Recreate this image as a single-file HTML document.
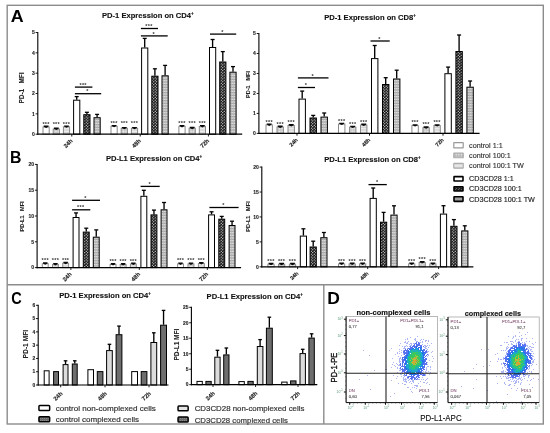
<!DOCTYPE html>
<html><head><meta charset="utf-8"><style>
html,body{margin:0;padding:0;background:#fff;}
body{width:550px;height:433px;overflow:hidden;}
svg{display:block;font-family:"Liberation Sans", sans-serif;will-change:transform;filter:blur(0.3px);}
</style></head><body>
<svg width="550" height="433" viewBox="0 0 550 433">
<defs>
<filter id="soft" x="-5%" y="-5%" width="110%" height="110%"><feGaussianBlur stdDeviation="0.3"/></filter>
<pattern id="px" width="3" height="2.8" patternUnits="userSpaceOnUse">
<rect width="3" height="2.8" fill="#111"/><path d="M0.75 -0.1 L1.55 0.7 L0.75 1.5 L-0.05 0.7 Z M2.25 1.3 L3.05 2.1 L2.25 2.9 L1.45 2.1 Z" fill="#f0f0f0"/>
</pattern>
<pattern id="ph" width="2" height="1.6" patternUnits="userSpaceOnUse">
<rect width="2" height="1.6" fill="#e2e2e2"/><rect y="1.0" width="2" height="0.6" fill="#8a8a8a"/><rect x="1.4" width="0.6" height="1.6" fill="#b8b8b8"/>
</pattern>
<pattern id="pcx" width="2.6" height="2.6" patternUnits="userSpaceOnUse">
<rect width="2.6" height="2.6" fill="#c8c8c8"/><rect x="0.65" y="0.65" width="1.3" height="1.3" fill="#f4f4f4" transform="rotate(45 1.3 1.3)"/>
</pattern>
<pattern id="pch" width="2" height="1.6" patternUnits="userSpaceOnUse">
<rect width="2" height="1.6" fill="#f0f0f0"/><rect y="1.0" width="2" height="0.6" fill="#c8c8c8"/>
</pattern>
<pattern id="plx" width="2.6" height="2.6" patternUnits="userSpaceOnUse">
<rect width="2.6" height="2.6" fill="#b8b8b8"/><rect x="0.65" y="0.65" width="1.3" height="1.3" fill="#eee" transform="rotate(45 1.3 1.3)"/>
</pattern>
<pattern id="plh" width="2" height="1.6" patternUnits="userSpaceOnUse">
<rect width="2" height="1.6" fill="#eee"/><rect y="1.0" width="2" height="0.6" fill="#d0d0d0"/>
</pattern>
<pattern id="pbx" width="3" height="2.8" patternUnits="userSpaceOnUse">
<rect width="3" height="2.8" fill="#111"/><path d="M0.75 0.1 L1.35 0.7 L0.75 1.3 L0.15 0.7 Z M2.25 1.5 L2.85 2.1 L2.25 2.7 L1.65 2.1 Z" fill="#e0e0e0"/>
</pattern>
<pattern id="pdg" width="2" height="2" patternUnits="userSpaceOnUse">
<rect width="2" height="2" fill="#6a6a6a"/><rect width="1" height="1" fill="#8a8a8a"/>
</pattern>
</defs>
<rect x="7.2" y="5.3" width="536.1" height="418.7" fill="none" stroke="#8c8c8c" stroke-width="1.4"/>
<line x1="7.2" y1="284.8" x2="543.3" y2="284.8" stroke="#8c8c8c" stroke-width="1.4"/>
<line x1="323.8" y1="284.8" x2="323.8" y2="424" stroke="#8c8c8c" stroke-width="1.4"/>
<text transform="translate(10.66 21.7) scale(1.044 1)" font-size="17.1" font-weight="bold" fill="#000">A</text>
<text transform="translate(9.99 162.9) scale(0.910 1)" font-size="17.39" font-weight="bold" fill="#000">B</text>
<text transform="translate(11.32 304.2) scale(0.843 1)" font-size="17.25" font-weight="bold" fill="#000">C</text>
<text transform="translate(327.27 303.7) scale(1.023 1)" font-size="17.1" font-weight="bold" fill="#000">D</text>
<rect x="43" y="127" width="6.2" height="7.2" fill="#fff" stroke="#8a8a8a" stroke-width="1"/>
<path d="M43.7 125.6 h4.8 v1.1 l-2.4 1.3 l-2.4 -1.3 z" fill="#0a0a0a"/>
<text x="46.1" y="125.5" font-size="5.5" font-weight="bold" fill="#333" text-anchor="middle" letter-spacing="0.3">***</text>
<rect x="53.2" y="129" width="6.2" height="5.2" fill="url(#pcx)" stroke="#8a8a8a" stroke-width="1"/>
<path d="M53.9 127.6 h4.8 v1.1 l-2.4 1.3 l-2.4 -1.3 z" fill="#0a0a0a"/>
<text x="56.3" y="125.5" font-size="5.5" font-weight="bold" fill="#333" text-anchor="middle" letter-spacing="0.3">***</text>
<rect x="63.4" y="126.8" width="6.2" height="7.4" fill="url(#pch)" stroke="#8a8a8a" stroke-width="1"/>
<path d="M64.1 125.4 h4.8 v1.1 l-2.4 1.3 l-2.4 -1.3 z" fill="#0a0a0a"/>
<text x="66.5" y="125.5" font-size="5.5" font-weight="bold" fill="#333" text-anchor="middle" letter-spacing="0.3">***</text>
<line x1="76.7" y1="99.7" x2="76.7" y2="96.6" stroke="#000" stroke-width="1.35"/>
<line x1="74.7" y1="96.6" x2="78.7" y2="96.6" stroke="#000" stroke-width="1.3"/>
<rect x="73.6" y="100.2" width="6.2" height="34" fill="#fff" stroke="#000" stroke-width="1"/>
<line x1="86.9" y1="114.2" x2="86.9" y2="112.3" stroke="#000" stroke-width="1.35"/>
<line x1="84.9" y1="112.3" x2="88.9" y2="112.3" stroke="#000" stroke-width="1.3"/>
<rect x="83.8" y="114.7" width="6.2" height="19.5" fill="url(#px)" stroke="#000" stroke-width="1"/>
<line x1="97.1" y1="117.2" x2="97.1" y2="114.4" stroke="#000" stroke-width="1.35"/>
<line x1="95.1" y1="114.4" x2="99.1" y2="114.4" stroke="#000" stroke-width="1.3"/>
<rect x="94" y="117.7" width="6.2" height="16.5" fill="url(#ph)" stroke="#000" stroke-width="1"/>
<rect x="111" y="126.3" width="6.2" height="7.9" fill="#fff" stroke="#8a8a8a" stroke-width="1"/>
<path d="M111.7 124.9 h4.8 v1.1 l-2.4 1.3 l-2.4 -1.3 z" fill="#0a0a0a"/>
<text x="114.1" y="125" font-size="5.5" font-weight="bold" fill="#333" text-anchor="middle" letter-spacing="0.3">***</text>
<rect x="121.2" y="128.3" width="6.2" height="5.9" fill="url(#pcx)" stroke="#8a8a8a" stroke-width="1"/>
<path d="M121.9 126.9 h4.8 v1.1 l-2.4 1.3 l-2.4 -1.3 z" fill="#0a0a0a"/>
<text x="124.3" y="125" font-size="5.5" font-weight="bold" fill="#333" text-anchor="middle" letter-spacing="0.3">***</text>
<rect x="131.4" y="128.3" width="6.2" height="5.9" fill="url(#pch)" stroke="#8a8a8a" stroke-width="1"/>
<path d="M132.1 126.9 h4.8 v1.1 l-2.4 1.3 l-2.4 -1.3 z" fill="#0a0a0a"/>
<text x="134.5" y="125" font-size="5.5" font-weight="bold" fill="#333" text-anchor="middle" letter-spacing="0.3">***</text>
<line x1="144.7" y1="47.5" x2="144.7" y2="38.4" stroke="#000" stroke-width="1.35"/>
<line x1="142.7" y1="38.4" x2="146.7" y2="38.4" stroke="#000" stroke-width="1.3"/>
<rect x="141.6" y="48" width="6.2" height="86.2" fill="#fff" stroke="#000" stroke-width="1"/>
<line x1="154.9" y1="75.7" x2="154.9" y2="68.8" stroke="#000" stroke-width="1.35"/>
<line x1="152.9" y1="68.8" x2="156.9" y2="68.8" stroke="#000" stroke-width="1.3"/>
<rect x="151.8" y="76.2" width="6.2" height="58" fill="url(#px)" stroke="#000" stroke-width="1"/>
<line x1="165.1" y1="75.3" x2="165.1" y2="65.4" stroke="#000" stroke-width="1.35"/>
<line x1="163.1" y1="65.4" x2="167.1" y2="65.4" stroke="#000" stroke-width="1.3"/>
<rect x="162" y="75.8" width="6.2" height="58.4" fill="url(#ph)" stroke="#000" stroke-width="1"/>
<rect x="178.9" y="126.4" width="6.2" height="7.8" fill="#fff" stroke="#8a8a8a" stroke-width="1"/>
<path d="M179.6 125 h4.8 v1.1 l-2.4 1.3 l-2.4 -1.3 z" fill="#0a0a0a"/>
<text x="182" y="125.1" font-size="5.5" font-weight="bold" fill="#333" text-anchor="middle" letter-spacing="0.3">***</text>
<rect x="189.1" y="128.2" width="6.2" height="6" fill="url(#pcx)" stroke="#8a8a8a" stroke-width="1"/>
<path d="M189.8 126.8 h4.8 v1.1 l-2.4 1.3 l-2.4 -1.3 z" fill="#0a0a0a"/>
<text x="192.2" y="125.1" font-size="5.5" font-weight="bold" fill="#333" text-anchor="middle" letter-spacing="0.3">***</text>
<rect x="199.3" y="126.4" width="6.2" height="7.8" fill="url(#pch)" stroke="#8a8a8a" stroke-width="1"/>
<path d="M200 125 h4.8 v1.1 l-2.4 1.3 l-2.4 -1.3 z" fill="#0a0a0a"/>
<text x="202.4" y="125.1" font-size="5.5" font-weight="bold" fill="#333" text-anchor="middle" letter-spacing="0.3">***</text>
<line x1="212.6" y1="47" x2="212.6" y2="39.5" stroke="#000" stroke-width="1.35"/>
<line x1="210.6" y1="39.5" x2="214.6" y2="39.5" stroke="#000" stroke-width="1.3"/>
<rect x="209.5" y="47.5" width="6.2" height="86.7" fill="#fff" stroke="#000" stroke-width="1"/>
<line x1="222.8" y1="61.5" x2="222.8" y2="51.6" stroke="#000" stroke-width="1.35"/>
<line x1="220.8" y1="51.6" x2="224.8" y2="51.6" stroke="#000" stroke-width="1.3"/>
<rect x="219.7" y="62" width="6.2" height="72.2" fill="url(#px)" stroke="#000" stroke-width="1"/>
<line x1="233" y1="71.7" x2="233" y2="66.6" stroke="#000" stroke-width="1.35"/>
<line x1="231" y1="66.6" x2="235" y2="66.6" stroke="#000" stroke-width="1.3"/>
<rect x="229.9" y="72.2" width="6.2" height="62" fill="url(#ph)" stroke="#000" stroke-width="1"/>
<line x1="37.8" y1="32" x2="37.8" y2="134.8" stroke="#000" stroke-width="1.1"/>
<line x1="37.3" y1="134.2" x2="242.2" y2="134.2" stroke="#000" stroke-width="1.2"/>
<line x1="35.6" y1="134.2" x2="37.8" y2="134.2" stroke="#000" stroke-width="0.9"/>
<text x="34.8" y="136" font-size="5" font-weight="bold" fill="#222" text-anchor="end" stroke="#222" stroke-width="0.12">0</text>
<line x1="35.6" y1="113.86" x2="37.8" y2="113.86" stroke="#000" stroke-width="0.9"/>
<text x="34.8" y="115.66" font-size="5" font-weight="bold" fill="#222" text-anchor="end" stroke="#222" stroke-width="0.12">1</text>
<line x1="35.6" y1="93.52" x2="37.8" y2="93.52" stroke="#000" stroke-width="0.9"/>
<text x="34.8" y="95.32" font-size="5" font-weight="bold" fill="#222" text-anchor="end" stroke="#222" stroke-width="0.12">2</text>
<line x1="35.6" y1="73.18" x2="37.8" y2="73.18" stroke="#000" stroke-width="0.9"/>
<text x="34.8" y="74.98" font-size="5" font-weight="bold" fill="#222" text-anchor="end" stroke="#222" stroke-width="0.12">3</text>
<line x1="35.6" y1="52.84" x2="37.8" y2="52.84" stroke="#000" stroke-width="0.9"/>
<text x="34.8" y="54.64" font-size="5" font-weight="bold" fill="#222" text-anchor="end" stroke="#222" stroke-width="0.12">4</text>
<line x1="35.6" y1="32.5" x2="37.8" y2="32.5" stroke="#000" stroke-width="0.9"/>
<text x="34.8" y="34.3" font-size="5" font-weight="bold" fill="#222" text-anchor="end" stroke="#222" stroke-width="0.12">5</text>
<line x1="71.8" y1="134.2" x2="71.8" y2="136.5" stroke="#000" stroke-width="0.9"/>
<text x="73" y="141.2" font-size="5.8" font-weight="bold" fill="#222" text-anchor="end" transform="rotate(-45 73 141.2)" stroke="#222" stroke-width="0.15">24h</text>
<line x1="140.2" y1="134.2" x2="140.2" y2="136.5" stroke="#000" stroke-width="0.9"/>
<text x="141.4" y="141.2" font-size="5.8" font-weight="bold" fill="#222" text-anchor="end" transform="rotate(-45 141.4 141.2)" stroke="#222" stroke-width="0.15">48h</text>
<line x1="208.4" y1="134.2" x2="208.4" y2="136.5" stroke="#000" stroke-width="0.9"/>
<text x="209.6" y="141.2" font-size="5.8" font-weight="bold" fill="#222" text-anchor="end" transform="rotate(-45 209.6 141.2)" stroke="#222" stroke-width="0.15">72h</text>
<line x1="74.9" y1="87.1" x2="92.4" y2="87.1" stroke="#000" stroke-width="1.3"/>
<text x="83.15" y="86.7" font-size="5.5" font-weight="bold" fill="#333" text-anchor="middle" letter-spacing="0.3">***</text>
<line x1="74.9" y1="93.7" x2="101.2" y2="93.7" stroke="#000" stroke-width="1.3"/>
<text x="87.55" y="93.3" font-size="5.5" font-weight="bold" fill="#333" text-anchor="middle" letter-spacing="0.3">*</text>
<line x1="140.9" y1="28.5" x2="158" y2="28.5" stroke="#000" stroke-width="1.3"/>
<text x="148.95" y="28.1" font-size="5.5" font-weight="bold" fill="#333" text-anchor="middle" letter-spacing="0.3">***</text>
<line x1="140.9" y1="35.9" x2="167.7" y2="35.9" stroke="#000" stroke-width="1.3"/>
<text x="153.8" y="35.5" font-size="5.5" font-weight="bold" fill="#333" text-anchor="middle" letter-spacing="0.3">*</text>
<line x1="210" y1="34.1" x2="236.2" y2="34.1" stroke="#000" stroke-width="1.3"/>
<text x="222.6" y="33.7" font-size="5.5" font-weight="bold" fill="#333" text-anchor="middle" letter-spacing="0.3">*</text>
<text x="21" y="88" font-size="6.45" font-weight="bold" fill="#222" text-anchor="middle" transform="rotate(-90 21 88)" dominant-baseline="central" xml:space="preserve" stroke="#222" stroke-width="0.08">PD-1   MFI</text>
<text x="102" y="18.3" font-size="7.6" font-weight="bold" fill="#111" text-anchor="start" stroke="#111" stroke-width="0.12">PD-1 Expression on CD4<tspan font-size="4.5" dy="-3">+</tspan></text>
<rect x="266" y="124.9" width="6.4" height="8.5" fill="#fff" stroke="#8a8a8a" stroke-width="1"/>
<path d="M266.7 123.5 h5 v1.1 l-2.5 1.3 l-2.5 -1.3 z" fill="#0a0a0a"/>
<text x="269.2" y="123.6" font-size="5.5" font-weight="bold" fill="#333" text-anchor="middle" letter-spacing="0.3">***</text>
<rect x="277" y="127" width="6.4" height="6.4" fill="url(#pcx)" stroke="#8a8a8a" stroke-width="1"/>
<path d="M277.7 125.6 h5 v1.1 l-2.5 1.3 l-2.5 -1.3 z" fill="#0a0a0a"/>
<text x="280.2" y="125.7" font-size="5.5" font-weight="bold" fill="#333" text-anchor="middle" letter-spacing="0.3">***</text>
<rect x="288" y="125.5" width="6.4" height="7.9" fill="url(#pch)" stroke="#8a8a8a" stroke-width="1"/>
<path d="M288.7 124.1 h5 v1.1 l-2.5 1.3 l-2.5 -1.3 z" fill="#0a0a0a"/>
<text x="291.2" y="124.2" font-size="5.5" font-weight="bold" fill="#333" text-anchor="middle" letter-spacing="0.3">***</text>
<line x1="302.2" y1="98.6" x2="302.2" y2="91.1" stroke="#000" stroke-width="1.35"/>
<line x1="300.2" y1="91.1" x2="304.2" y2="91.1" stroke="#000" stroke-width="1.3"/>
<rect x="299" y="99.1" width="6.4" height="34.3" fill="#fff" stroke="#000" stroke-width="1"/>
<line x1="313.2" y1="117.5" x2="313.2" y2="115.4" stroke="#000" stroke-width="1.35"/>
<line x1="311.2" y1="115.4" x2="315.2" y2="115.4" stroke="#000" stroke-width="1.3"/>
<rect x="310" y="118" width="6.4" height="15.4" fill="url(#px)" stroke="#000" stroke-width="1"/>
<line x1="324.2" y1="116.6" x2="324.2" y2="113" stroke="#000" stroke-width="1.35"/>
<line x1="322.2" y1="113" x2="326.2" y2="113" stroke="#000" stroke-width="1.3"/>
<rect x="321" y="117.1" width="6.4" height="16.3" fill="url(#ph)" stroke="#000" stroke-width="1"/>
<rect x="338.5" y="124.1" width="6.4" height="9.3" fill="#fff" stroke="#8a8a8a" stroke-width="1"/>
<path d="M339.2 122.7 h5 v1.1 l-2.5 1.3 l-2.5 -1.3 z" fill="#0a0a0a"/>
<text x="341.7" y="122.8" font-size="5.5" font-weight="bold" fill="#333" text-anchor="middle" letter-spacing="0.3">***</text>
<rect x="349.5" y="127.1" width="6.4" height="6.3" fill="url(#pcx)" stroke="#8a8a8a" stroke-width="1"/>
<path d="M350.2 125.7 h5 v1.1 l-2.5 1.3 l-2.5 -1.3 z" fill="#0a0a0a"/>
<text x="352.7" y="125.8" font-size="5.5" font-weight="bold" fill="#333" text-anchor="middle" letter-spacing="0.3">***</text>
<rect x="360.5" y="125" width="6.4" height="8.4" fill="url(#pch)" stroke="#8a8a8a" stroke-width="1"/>
<path d="M361.2 123.6 h5 v1.1 l-2.5 1.3 l-2.5 -1.3 z" fill="#0a0a0a"/>
<text x="363.7" y="123.7" font-size="5.5" font-weight="bold" fill="#333" text-anchor="middle" letter-spacing="0.3">***</text>
<line x1="374.7" y1="58.1" x2="374.7" y2="45.5" stroke="#000" stroke-width="1.35"/>
<line x1="372.7" y1="45.5" x2="376.7" y2="45.5" stroke="#000" stroke-width="1.3"/>
<rect x="371.5" y="58.6" width="6.4" height="74.8" fill="#fff" stroke="#000" stroke-width="1"/>
<line x1="385.7" y1="84" x2="385.7" y2="77.7" stroke="#000" stroke-width="1.35"/>
<line x1="383.7" y1="77.7" x2="387.7" y2="77.7" stroke="#000" stroke-width="1.3"/>
<rect x="382.5" y="84.5" width="6.4" height="48.9" fill="url(#px)" stroke="#000" stroke-width="1"/>
<line x1="396.7" y1="78.5" x2="396.7" y2="70.2" stroke="#000" stroke-width="1.35"/>
<line x1="394.7" y1="70.2" x2="398.7" y2="70.2" stroke="#000" stroke-width="1.3"/>
<rect x="393.5" y="79" width="6.4" height="54.4" fill="url(#ph)" stroke="#000" stroke-width="1"/>
<rect x="411.9" y="125.6" width="6.4" height="7.8" fill="#fff" stroke="#8a8a8a" stroke-width="1"/>
<path d="M412.6 124.2 h5 v1.1 l-2.5 1.3 l-2.5 -1.3 z" fill="#0a0a0a"/>
<text x="415.1" y="124.3" font-size="5.5" font-weight="bold" fill="#333" text-anchor="middle" letter-spacing="0.3">***</text>
<rect x="422.9" y="127.7" width="6.4" height="5.7" fill="url(#pcx)" stroke="#8a8a8a" stroke-width="1"/>
<path d="M423.6 126.3 h5 v1.1 l-2.5 1.3 l-2.5 -1.3 z" fill="#0a0a0a"/>
<text x="426.1" y="126.4" font-size="5.5" font-weight="bold" fill="#333" text-anchor="middle" letter-spacing="0.3">***</text>
<rect x="433.9" y="125.6" width="6.4" height="7.8" fill="url(#pch)" stroke="#8a8a8a" stroke-width="1"/>
<path d="M434.6 124.2 h5 v1.1 l-2.5 1.3 l-2.5 -1.3 z" fill="#0a0a0a"/>
<text x="437.1" y="124.3" font-size="5.5" font-weight="bold" fill="#333" text-anchor="middle" letter-spacing="0.3">***</text>
<line x1="448.1" y1="73.2" x2="448.1" y2="67.1" stroke="#000" stroke-width="1.35"/>
<line x1="446.1" y1="67.1" x2="450.1" y2="67.1" stroke="#000" stroke-width="1.3"/>
<rect x="444.9" y="73.7" width="6.4" height="59.7" fill="#fff" stroke="#000" stroke-width="1"/>
<line x1="459.1" y1="51" x2="459.1" y2="35" stroke="#000" stroke-width="1.35"/>
<line x1="457.1" y1="35" x2="461.1" y2="35" stroke="#000" stroke-width="1.3"/>
<rect x="455.9" y="51.5" width="6.4" height="81.9" fill="url(#px)" stroke="#000" stroke-width="1"/>
<line x1="470.1" y1="86.7" x2="470.1" y2="81" stroke="#000" stroke-width="1.35"/>
<line x1="468.1" y1="81" x2="472.1" y2="81" stroke="#000" stroke-width="1.3"/>
<rect x="466.9" y="87.2" width="6.4" height="46.2" fill="url(#ph)" stroke="#000" stroke-width="1"/>
<line x1="258.9" y1="33" x2="258.9" y2="134" stroke="#000" stroke-width="1.1"/>
<line x1="258.4" y1="133.4" x2="479.6" y2="133.4" stroke="#000" stroke-width="1.2"/>
<line x1="256.7" y1="133.4" x2="258.9" y2="133.4" stroke="#000" stroke-width="0.9"/>
<text x="255.9" y="135.2" font-size="5" font-weight="bold" fill="#222" text-anchor="end" stroke="#222" stroke-width="0.12">0</text>
<line x1="256.7" y1="113.42" x2="258.9" y2="113.42" stroke="#000" stroke-width="0.9"/>
<text x="255.9" y="115.22" font-size="5" font-weight="bold" fill="#222" text-anchor="end" stroke="#222" stroke-width="0.12">1</text>
<line x1="256.7" y1="93.44" x2="258.9" y2="93.44" stroke="#000" stroke-width="0.9"/>
<text x="255.9" y="95.24" font-size="5" font-weight="bold" fill="#222" text-anchor="end" stroke="#222" stroke-width="0.12">2</text>
<line x1="256.7" y1="73.46" x2="258.9" y2="73.46" stroke="#000" stroke-width="0.9"/>
<text x="255.9" y="75.26" font-size="5" font-weight="bold" fill="#222" text-anchor="end" stroke="#222" stroke-width="0.12">3</text>
<line x1="256.7" y1="53.48" x2="258.9" y2="53.48" stroke="#000" stroke-width="0.9"/>
<text x="255.9" y="55.28" font-size="5" font-weight="bold" fill="#222" text-anchor="end" stroke="#222" stroke-width="0.12">4</text>
<line x1="256.7" y1="33.5" x2="258.9" y2="33.5" stroke="#000" stroke-width="0.9"/>
<text x="255.9" y="35.3" font-size="5" font-weight="bold" fill="#222" text-anchor="end" stroke="#222" stroke-width="0.12">5</text>
<line x1="297" y1="133.4" x2="297" y2="135.7" stroke="#000" stroke-width="0.9"/>
<text x="298.2" y="140.4" font-size="5.4" font-weight="bold" fill="#222" text-anchor="end" transform="rotate(-45 298.2 140.4)" stroke="#222" stroke-width="0.15">24h</text>
<line x1="369.5" y1="133.4" x2="369.5" y2="135.7" stroke="#000" stroke-width="0.9"/>
<text x="370.7" y="140.4" font-size="5.4" font-weight="bold" fill="#222" text-anchor="end" transform="rotate(-45 370.7 140.4)" stroke="#222" stroke-width="0.15">48h</text>
<line x1="443" y1="133.4" x2="443" y2="135.7" stroke="#000" stroke-width="0.9"/>
<text x="444.2" y="140.4" font-size="5.4" font-weight="bold" fill="#222" text-anchor="end" transform="rotate(-45 444.2 140.4)" stroke="#222" stroke-width="0.15">72h</text>
<line x1="297.9" y1="77.9" x2="328.5" y2="77.9" stroke="#000" stroke-width="1.3"/>
<text x="312.7" y="77.5" font-size="5.5" font-weight="bold" fill="#333" text-anchor="middle" letter-spacing="0.3">*</text>
<line x1="297.9" y1="87.5" x2="315" y2="87.5" stroke="#000" stroke-width="1.3"/>
<text x="305.95" y="87.1" font-size="5.5" font-weight="bold" fill="#333" text-anchor="middle" letter-spacing="0.3">*</text>
<line x1="370.5" y1="41" x2="389.7" y2="41" stroke="#000" stroke-width="1.3"/>
<text x="379.6" y="40.6" font-size="5.5" font-weight="bold" fill="#333" text-anchor="middle" letter-spacing="0.3">*</text>
<text x="248" y="84.5" font-size="5.6" font-weight="bold" fill="#222" text-anchor="middle" transform="rotate(-90 248 84.5)" dominant-baseline="central" xml:space="preserve" stroke="#222" stroke-width="0.08">PD-1   MFI</text>
<text x="324.2" y="19.5" font-size="7.6" font-weight="bold" fill="#111" text-anchor="start" stroke="#111" stroke-width="0.12">PD-1 Expression on CD8<tspan font-size="4.5" dy="-3">+</tspan></text>
<rect x="42.3" y="263.7" width="5.9" height="3.9" fill="#fff" stroke="#8a8a8a" stroke-width="1"/>
<path d="M43 262.3 h4.5 v1.1 l-2.25 1.3 l-2.25 -1.3 z" fill="#0a0a0a"/>
<text x="45.25" y="261.9" font-size="5.5" font-weight="bold" fill="#333" text-anchor="middle" letter-spacing="0.3">***</text>
<rect x="52.5" y="264.4" width="5.9" height="3.2" fill="url(#pcx)" stroke="#8a8a8a" stroke-width="1"/>
<path d="M53.2 263 h4.5 v1.1 l-2.25 1.3 l-2.25 -1.3 z" fill="#0a0a0a"/>
<text x="55.45" y="261.9" font-size="5.5" font-weight="bold" fill="#333" text-anchor="middle" letter-spacing="0.3">***</text>
<rect x="62.7" y="263.2" width="5.9" height="4.4" fill="url(#pch)" stroke="#8a8a8a" stroke-width="1"/>
<path d="M63.4 261.8 h4.5 v1.1 l-2.25 1.3 l-2.25 -1.3 z" fill="#0a0a0a"/>
<text x="65.65" y="261.9" font-size="5.5" font-weight="bold" fill="#333" text-anchor="middle" letter-spacing="0.3">***</text>
<line x1="76.05" y1="217" x2="76.05" y2="212.9" stroke="#000" stroke-width="1.35"/>
<line x1="74.05" y1="212.9" x2="78.05" y2="212.9" stroke="#000" stroke-width="1.3"/>
<rect x="73.1" y="217.5" width="5.9" height="50.1" fill="#fff" stroke="#000" stroke-width="1"/>
<line x1="86.25" y1="231.6" x2="86.25" y2="228.2" stroke="#000" stroke-width="1.35"/>
<line x1="84.25" y1="228.2" x2="88.25" y2="228.2" stroke="#000" stroke-width="1.3"/>
<rect x="83.3" y="232.1" width="5.9" height="35.5" fill="url(#px)" stroke="#000" stroke-width="1"/>
<line x1="96.25" y1="236.7" x2="96.25" y2="229.9" stroke="#000" stroke-width="1.35"/>
<line x1="94.25" y1="229.9" x2="98.25" y2="229.9" stroke="#000" stroke-width="1.3"/>
<rect x="93.3" y="237.2" width="5.9" height="30.4" fill="url(#ph)" stroke="#000" stroke-width="1"/>
<rect x="110.1" y="264.5" width="5.9" height="3.1" fill="#fff" stroke="#8a8a8a" stroke-width="1"/>
<path d="M110.8 263.1 h4.5 v1.1 l-2.25 1.3 l-2.25 -1.3 z" fill="#0a0a0a"/>
<text x="113.05" y="262.7" font-size="5.5" font-weight="bold" fill="#333" text-anchor="middle" letter-spacing="0.3">***</text>
<rect x="120.2" y="264.5" width="5.9" height="3.1" fill="url(#pcx)" stroke="#8a8a8a" stroke-width="1"/>
<path d="M120.9 263.1 h4.5 v1.1 l-2.25 1.3 l-2.25 -1.3 z" fill="#0a0a0a"/>
<text x="123.15" y="262.7" font-size="5.5" font-weight="bold" fill="#333" text-anchor="middle" letter-spacing="0.3">***</text>
<rect x="130.4" y="264" width="5.9" height="3.6" fill="url(#pch)" stroke="#8a8a8a" stroke-width="1"/>
<path d="M131.1 262.6 h4.5 v1.1 l-2.25 1.3 l-2.25 -1.3 z" fill="#0a0a0a"/>
<text x="133.35" y="262.7" font-size="5.5" font-weight="bold" fill="#333" text-anchor="middle" letter-spacing="0.3">***</text>
<line x1="143.85" y1="195.8" x2="143.85" y2="190.3" stroke="#000" stroke-width="1.35"/>
<line x1="141.85" y1="190.3" x2="145.85" y2="190.3" stroke="#000" stroke-width="1.3"/>
<rect x="140.9" y="196.3" width="5.9" height="71.3" fill="#fff" stroke="#000" stroke-width="1"/>
<line x1="153.95" y1="214.4" x2="153.95" y2="210.1" stroke="#000" stroke-width="1.35"/>
<line x1="151.95" y1="210.1" x2="155.95" y2="210.1" stroke="#000" stroke-width="1.3"/>
<rect x="151" y="214.9" width="5.9" height="52.7" fill="url(#px)" stroke="#000" stroke-width="1"/>
<line x1="164.05" y1="209.3" x2="164.05" y2="202.5" stroke="#000" stroke-width="1.35"/>
<line x1="162.05" y1="202.5" x2="166.05" y2="202.5" stroke="#000" stroke-width="1.3"/>
<rect x="161.1" y="209.8" width="5.9" height="57.8" fill="url(#ph)" stroke="#000" stroke-width="1"/>
<rect x="177.6" y="263.9" width="5.9" height="3.7" fill="#fff" stroke="#8a8a8a" stroke-width="1"/>
<path d="M178.3 262.5 h4.5 v1.1 l-2.25 1.3 l-2.25 -1.3 z" fill="#0a0a0a"/>
<text x="180.55" y="262.2" font-size="5.5" font-weight="bold" fill="#333" text-anchor="middle" letter-spacing="0.3">***</text>
<rect x="188" y="263.9" width="5.9" height="3.7" fill="url(#pcx)" stroke="#8a8a8a" stroke-width="1"/>
<path d="M188.7 262.5 h4.5 v1.1 l-2.25 1.3 l-2.25 -1.3 z" fill="#0a0a0a"/>
<text x="190.95" y="262.2" font-size="5.5" font-weight="bold" fill="#333" text-anchor="middle" letter-spacing="0.3">***</text>
<rect x="198.4" y="263.5" width="5.9" height="4.1" fill="url(#pch)" stroke="#8a8a8a" stroke-width="1"/>
<path d="M199.1 262.1 h4.5 v1.1 l-2.25 1.3 l-2.25 -1.3 z" fill="#0a0a0a"/>
<text x="201.35" y="262.2" font-size="5.5" font-weight="bold" fill="#333" text-anchor="middle" letter-spacing="0.3">***</text>
<line x1="211.55" y1="214.4" x2="211.55" y2="211.8" stroke="#000" stroke-width="1.35"/>
<line x1="209.55" y1="211.8" x2="213.55" y2="211.8" stroke="#000" stroke-width="1.3"/>
<rect x="208.6" y="214.9" width="5.9" height="52.7" fill="#fff" stroke="#000" stroke-width="1"/>
<line x1="221.75" y1="218.7" x2="221.75" y2="216.4" stroke="#000" stroke-width="1.35"/>
<line x1="219.75" y1="216.4" x2="223.75" y2="216.4" stroke="#000" stroke-width="1.3"/>
<rect x="218.8" y="219.2" width="5.9" height="48.4" fill="url(#px)" stroke="#000" stroke-width="1"/>
<line x1="232.05" y1="225" x2="232.05" y2="221.2" stroke="#000" stroke-width="1.35"/>
<line x1="230.05" y1="221.2" x2="234.05" y2="221.2" stroke="#000" stroke-width="1.3"/>
<rect x="229.1" y="225.5" width="5.9" height="42.1" fill="url(#ph)" stroke="#000" stroke-width="1"/>
<line x1="37.1" y1="163.9" x2="37.1" y2="268.2" stroke="#000" stroke-width="1.1"/>
<line x1="36.6" y1="267.6" x2="241.1" y2="267.6" stroke="#000" stroke-width="1.2"/>
<line x1="34.9" y1="267.6" x2="37.1" y2="267.6" stroke="#000" stroke-width="0.9"/>
<text x="34.1" y="269.4" font-size="5" font-weight="bold" fill="#222" text-anchor="end" stroke="#222" stroke-width="0.12">0</text>
<line x1="34.9" y1="241.8" x2="37.1" y2="241.8" stroke="#000" stroke-width="0.9"/>
<text x="34.1" y="243.6" font-size="5" font-weight="bold" fill="#222" text-anchor="end" stroke="#222" stroke-width="0.12">5</text>
<line x1="34.9" y1="216" x2="37.1" y2="216" stroke="#000" stroke-width="0.9"/>
<text x="34.1" y="217.8" font-size="5" font-weight="bold" fill="#222" text-anchor="end" stroke="#222" stroke-width="0.12">10</text>
<line x1="34.9" y1="190.2" x2="37.1" y2="190.2" stroke="#000" stroke-width="0.9"/>
<text x="34.1" y="192" font-size="5" font-weight="bold" fill="#222" text-anchor="end" stroke="#222" stroke-width="0.12">15</text>
<line x1="34.9" y1="164.4" x2="37.1" y2="164.4" stroke="#000" stroke-width="0.9"/>
<text x="34.1" y="166.2" font-size="5" font-weight="bold" fill="#222" text-anchor="end" stroke="#222" stroke-width="0.12">20</text>
<line x1="70.9" y1="267.6" x2="70.9" y2="269.9" stroke="#000" stroke-width="0.9"/>
<text x="72.1" y="274.6" font-size="5.8" font-weight="bold" fill="#222" text-anchor="end" transform="rotate(-45 72.1 274.6)" stroke="#222" stroke-width="0.15">24h</text>
<line x1="139.3" y1="267.6" x2="139.3" y2="269.9" stroke="#000" stroke-width="0.9"/>
<text x="140.5" y="274.6" font-size="5.8" font-weight="bold" fill="#222" text-anchor="end" transform="rotate(-45 140.5 274.6)" stroke="#222" stroke-width="0.15">48h</text>
<line x1="207.3" y1="267.6" x2="207.3" y2="269.9" stroke="#000" stroke-width="0.9"/>
<text x="208.5" y="274.6" font-size="5.8" font-weight="bold" fill="#222" text-anchor="end" transform="rotate(-45 208.5 274.6)" stroke="#222" stroke-width="0.15">72h</text>
<line x1="72.1" y1="200.3" x2="100" y2="200.3" stroke="#000" stroke-width="1.3"/>
<text x="85.55" y="199.9" font-size="5.5" font-weight="bold" fill="#333" text-anchor="middle" letter-spacing="0.3">*</text>
<line x1="72.1" y1="209.8" x2="90.3" y2="209.8" stroke="#000" stroke-width="1.3"/>
<text x="80.7" y="209.4" font-size="5.5" font-weight="bold" fill="#333" text-anchor="middle" letter-spacing="0.3">***</text>
<line x1="140.6" y1="186.4" x2="159.7" y2="186.4" stroke="#000" stroke-width="1.3"/>
<text x="149.65" y="186" font-size="5.5" font-weight="bold" fill="#333" text-anchor="middle" letter-spacing="0.3">*</text>
<line x1="209.4" y1="207.5" x2="238.6" y2="207.5" stroke="#000" stroke-width="1.3"/>
<text x="223.5" y="207.1" font-size="5.5" font-weight="bold" fill="#333" text-anchor="middle" letter-spacing="0.3">*</text>
<text x="22.4" y="216.4" font-size="5.5" font-weight="bold" fill="#222" text-anchor="middle" transform="rotate(-90 22.4 216.4)" dominant-baseline="central" xml:space="preserve" stroke="#222" stroke-width="0.08">PD-L1   MFI</text>
<text x="105.9" y="161.1" font-size="7.6" font-weight="bold" fill="#111" text-anchor="start" stroke="#111" stroke-width="0.12">PD-L1 Expression on CD4<tspan font-size="4.5" dy="-3">+</tspan></text>
<rect x="267.9" y="264.2" width="6.2" height="2.6" fill="#fff" stroke="#8a8a8a" stroke-width="1"/>
<path d="M268.6 262.8 h4.8 v1.1 l-2.4 1.3 l-2.4 -1.3 z" fill="#0a0a0a"/>
<text x="271" y="262.9" font-size="5.5" font-weight="bold" fill="#333" text-anchor="middle" letter-spacing="0.3">***</text>
<rect x="278.5" y="264.2" width="6.2" height="2.6" fill="url(#pcx)" stroke="#8a8a8a" stroke-width="1"/>
<path d="M279.2 262.8 h4.8 v1.1 l-2.4 1.3 l-2.4 -1.3 z" fill="#0a0a0a"/>
<text x="281.6" y="262.9" font-size="5.5" font-weight="bold" fill="#333" text-anchor="middle" letter-spacing="0.3">***</text>
<rect x="289.4" y="264.2" width="6.2" height="2.6" fill="url(#pch)" stroke="#8a8a8a" stroke-width="1"/>
<path d="M290.1 262.8 h4.8 v1.1 l-2.4 1.3 l-2.4 -1.3 z" fill="#0a0a0a"/>
<text x="292.5" y="262.9" font-size="5.5" font-weight="bold" fill="#333" text-anchor="middle" letter-spacing="0.3">***</text>
<line x1="303.4" y1="235.6" x2="303.4" y2="228.8" stroke="#000" stroke-width="1.35"/>
<line x1="301.4" y1="228.8" x2="305.4" y2="228.8" stroke="#000" stroke-width="1.3"/>
<rect x="300.3" y="236.1" width="6.2" height="30.7" fill="#fff" stroke="#000" stroke-width="1"/>
<line x1="313.2" y1="246.5" x2="313.2" y2="241.2" stroke="#000" stroke-width="1.35"/>
<line x1="311.2" y1="241.2" x2="315.2" y2="241.2" stroke="#000" stroke-width="1.3"/>
<rect x="310.1" y="247" width="6.2" height="19.8" fill="url(#px)" stroke="#000" stroke-width="1"/>
<line x1="323.9" y1="237.2" x2="323.9" y2="232.5" stroke="#000" stroke-width="1.35"/>
<line x1="321.9" y1="232.5" x2="325.9" y2="232.5" stroke="#000" stroke-width="1.3"/>
<rect x="320.8" y="237.7" width="6.2" height="29.1" fill="url(#ph)" stroke="#000" stroke-width="1"/>
<rect x="338.5" y="263.9" width="6.2" height="2.9" fill="#fff" stroke="#8a8a8a" stroke-width="1"/>
<path d="M339.2 262.5 h4.8 v1.1 l-2.4 1.3 l-2.4 -1.3 z" fill="#0a0a0a"/>
<text x="341.6" y="262.6" font-size="5.5" font-weight="bold" fill="#333" text-anchor="middle" letter-spacing="0.3">***</text>
<rect x="349.1" y="263.9" width="6.2" height="2.9" fill="url(#pcx)" stroke="#8a8a8a" stroke-width="1"/>
<path d="M349.8 262.5 h4.8 v1.1 l-2.4 1.3 l-2.4 -1.3 z" fill="#0a0a0a"/>
<text x="352.2" y="262.6" font-size="5.5" font-weight="bold" fill="#333" text-anchor="middle" letter-spacing="0.3">***</text>
<rect x="359.5" y="263.9" width="6.2" height="2.9" fill="url(#pch)" stroke="#8a8a8a" stroke-width="1"/>
<path d="M360.2 262.5 h4.8 v1.1 l-2.4 1.3 l-2.4 -1.3 z" fill="#0a0a0a"/>
<text x="362.6" y="262.6" font-size="5.5" font-weight="bold" fill="#333" text-anchor="middle" letter-spacing="0.3">***</text>
<line x1="373.2" y1="197.9" x2="373.2" y2="188" stroke="#000" stroke-width="1.35"/>
<line x1="371.2" y1="188" x2="375.2" y2="188" stroke="#000" stroke-width="1.3"/>
<rect x="370.1" y="198.4" width="6.2" height="68.4" fill="#fff" stroke="#000" stroke-width="1"/>
<line x1="383.6" y1="221.7" x2="383.6" y2="212.4" stroke="#000" stroke-width="1.35"/>
<line x1="381.6" y1="212.4" x2="385.6" y2="212.4" stroke="#000" stroke-width="1.3"/>
<rect x="380.5" y="222.2" width="6.2" height="44.6" fill="url(#px)" stroke="#000" stroke-width="1"/>
<line x1="394" y1="214.6" x2="394" y2="205.8" stroke="#000" stroke-width="1.35"/>
<line x1="392" y1="205.8" x2="396" y2="205.8" stroke="#000" stroke-width="1.3"/>
<rect x="390.9" y="215.1" width="6.2" height="51.7" fill="url(#ph)" stroke="#000" stroke-width="1"/>
<rect x="408.6" y="263.9" width="6.2" height="2.9" fill="#fff" stroke="#8a8a8a" stroke-width="1"/>
<path d="M409.3 262.5 h4.8 v1.1 l-2.4 1.3 l-2.4 -1.3 z" fill="#0a0a0a"/>
<text x="411.7" y="262.6" font-size="5.5" font-weight="bold" fill="#333" text-anchor="middle" letter-spacing="0.3">***</text>
<rect x="419.1" y="262.5" width="6.2" height="4.3" fill="url(#pcx)" stroke="#8a8a8a" stroke-width="1"/>
<path d="M419.8 261.1 h4.8 v1.1 l-2.4 1.3 l-2.4 -1.3 z" fill="#0a0a0a"/>
<text x="422.2" y="261.2" font-size="5.5" font-weight="bold" fill="#333" text-anchor="middle" letter-spacing="0.3">***</text>
<rect x="429.8" y="263.9" width="6.2" height="2.9" fill="url(#pch)" stroke="#8a8a8a" stroke-width="1"/>
<path d="M430.5 262.5 h4.8 v1.1 l-2.4 1.3 l-2.4 -1.3 z" fill="#0a0a0a"/>
<text x="432.9" y="262.6" font-size="5.5" font-weight="bold" fill="#333" text-anchor="middle" letter-spacing="0.3">***</text>
<line x1="443.5" y1="213.6" x2="443.5" y2="205.7" stroke="#000" stroke-width="1.35"/>
<line x1="441.5" y1="205.7" x2="445.5" y2="205.7" stroke="#000" stroke-width="1.3"/>
<rect x="440.4" y="214.1" width="6.2" height="52.7" fill="#fff" stroke="#000" stroke-width="1"/>
<line x1="453.9" y1="225.8" x2="453.9" y2="219.6" stroke="#000" stroke-width="1.35"/>
<line x1="451.9" y1="219.6" x2="455.9" y2="219.6" stroke="#000" stroke-width="1.3"/>
<rect x="450.8" y="226.3" width="6.2" height="40.5" fill="url(#px)" stroke="#000" stroke-width="1"/>
<line x1="464.8" y1="230.4" x2="464.8" y2="225.8" stroke="#000" stroke-width="1.35"/>
<line x1="462.8" y1="225.8" x2="466.8" y2="225.8" stroke="#000" stroke-width="1.3"/>
<rect x="461.7" y="230.9" width="6.2" height="35.9" fill="url(#ph)" stroke="#000" stroke-width="1"/>
<line x1="261.8" y1="166.6" x2="261.8" y2="267.4" stroke="#000" stroke-width="1.1"/>
<line x1="261.3" y1="266.8" x2="473.4" y2="266.8" stroke="#000" stroke-width="1.2"/>
<line x1="259.6" y1="266.8" x2="261.8" y2="266.8" stroke="#000" stroke-width="0.9"/>
<text x="258.8" y="268.6" font-size="5" font-weight="bold" fill="#222" text-anchor="end" stroke="#222" stroke-width="0.12">0</text>
<line x1="259.6" y1="241.88" x2="261.8" y2="241.88" stroke="#000" stroke-width="0.9"/>
<text x="258.8" y="243.68" font-size="5" font-weight="bold" fill="#222" text-anchor="end" stroke="#222" stroke-width="0.12">5</text>
<line x1="259.6" y1="216.95" x2="261.8" y2="216.95" stroke="#000" stroke-width="0.9"/>
<text x="258.8" y="218.75" font-size="5" font-weight="bold" fill="#222" text-anchor="end" stroke="#222" stroke-width="0.12">10</text>
<line x1="259.6" y1="192.02" x2="261.8" y2="192.02" stroke="#000" stroke-width="0.9"/>
<text x="258.8" y="193.82" font-size="5" font-weight="bold" fill="#222" text-anchor="end" stroke="#222" stroke-width="0.12">15</text>
<line x1="259.6" y1="167.1" x2="261.8" y2="167.1" stroke="#000" stroke-width="0.9"/>
<text x="258.8" y="168.9" font-size="5" font-weight="bold" fill="#222" text-anchor="end" stroke="#222" stroke-width="0.12">20</text>
<line x1="297.6" y1="266.8" x2="297.6" y2="269.1" stroke="#000" stroke-width="0.9"/>
<text x="298.8" y="273.8" font-size="5.4" font-weight="bold" fill="#222" text-anchor="end" transform="rotate(-45 298.8 273.8)" stroke="#222" stroke-width="0.15">24h</text>
<line x1="367.7" y1="266.8" x2="367.7" y2="269.1" stroke="#000" stroke-width="0.9"/>
<text x="368.9" y="273.8" font-size="5.4" font-weight="bold" fill="#222" text-anchor="end" transform="rotate(-45 368.9 273.8)" stroke="#222" stroke-width="0.15">48h</text>
<line x1="438.6" y1="266.8" x2="438.6" y2="269.1" stroke="#000" stroke-width="0.9"/>
<text x="439.8" y="273.8" font-size="5.4" font-weight="bold" fill="#222" text-anchor="end" transform="rotate(-45 439.8 273.8)" stroke="#222" stroke-width="0.15">72h</text>
<line x1="368.5" y1="184.6" x2="386.8" y2="184.6" stroke="#000" stroke-width="1.3"/>
<text x="377.15" y="184.2" font-size="5.5" font-weight="bold" fill="#333" text-anchor="middle" letter-spacing="0.3">*</text>
<text x="247.7" y="216.5" font-size="5.6" font-weight="bold" fill="#222" text-anchor="middle" transform="rotate(-90 247.7 216.5)" dominant-baseline="central" xml:space="preserve" stroke="#222" stroke-width="0.08">PD-L1   MFI</text>
<text x="324.2" y="161.5" font-size="7.6" font-weight="bold" fill="#111" text-anchor="start" stroke="#111" stroke-width="0.12">PD-L1 Expression on CD8<tspan font-size="4.5" dy="-3">+</tspan></text>
<rect x="453.8" y="142.7" width="9.4" height="5.2" fill="#ffffff" stroke="#999999" stroke-width="1.2" rx="0.3"/>
<text x="469.1" y="148" font-size="7.2" font-weight="normal" fill="#333" text-anchor="start" stroke="#333" stroke-width="0.15">control 1:1</text>
<rect x="453.75" y="153.05" width="9.5" height="4.7" fill="url(#plx)" stroke="#aaaaaa" stroke-width="1.1" rx="0.3"/>
<text x="469.1" y="157.8" font-size="7.2" font-weight="normal" fill="#333" text-anchor="start" stroke="#333" stroke-width="0.15">control 100:1</text>
<rect x="453.75" y="163.35" width="9.5" height="4.8" fill="url(#plh)" stroke="#aaaaaa" stroke-width="1.1" rx="0.3"/>
<text x="469.1" y="168.2" font-size="7.2" font-weight="normal" fill="#333" text-anchor="start" stroke="#333" stroke-width="0.15">control 100:1 TW</text>
<rect x="454" y="176.6" width="9" height="4.4" fill="#fff" stroke="#000" stroke-width="1.6" rx="0.3"/>
<text x="469.1" y="181.3" font-size="7.2" font-weight="normal" fill="#222" text-anchor="start" stroke="#222" stroke-width="0.15">CD3CD28 1:1</text>
<rect x="454" y="186.7" width="9" height="4.3" fill="url(#pbx)" stroke="#000" stroke-width="1.6" rx="0.3"/>
<text x="469.1" y="191.3" font-size="7.2" font-weight="normal" fill="#222" text-anchor="start" stroke="#222" stroke-width="0.15">CD3CD28 100:1</text>
<rect x="454" y="196.7" width="9" height="4.7" fill="#a0a0a0" stroke="#000" stroke-width="1.6" rx="0.3"/>
<text x="469.1" y="201.7" font-size="7.2" font-weight="normal" fill="#222" text-anchor="start" stroke="#222" stroke-width="0.15">CD3CD28 100:1 TW</text>
<rect x="44.2" y="370.8" width="4.9" height="14.2" fill="#fff" stroke="#000" stroke-width="1"/>
<rect x="53.6" y="371.6" width="4.9" height="13.4" fill="#6e6e6e" stroke="#000" stroke-width="1"/>
<line x1="65.55" y1="364.1" x2="65.55" y2="360.8" stroke="#000" stroke-width="1.35"/>
<line x1="63.75" y1="360.8" x2="67.35" y2="360.8" stroke="#000" stroke-width="1.3"/>
<rect x="63.1" y="364.6" width="4.9" height="20.4" fill="#dcdcdc" stroke="#000" stroke-width="1"/>
<line x1="74.75" y1="363.5" x2="74.75" y2="360.8" stroke="#000" stroke-width="1.35"/>
<line x1="72.95" y1="360.8" x2="76.55" y2="360.8" stroke="#000" stroke-width="1.3"/>
<rect x="72.3" y="364" width="4.9" height="21" fill="#6e6e6e" stroke="#000" stroke-width="1"/>
<rect x="87.9" y="369.7" width="5.6" height="15.3" fill="#fff" stroke="#000" stroke-width="1"/>
<rect x="97.3" y="371.6" width="5.6" height="13.4" fill="#6e6e6e" stroke="#000" stroke-width="1"/>
<line x1="109.45" y1="350.1" x2="109.45" y2="344.3" stroke="#000" stroke-width="1.35"/>
<line x1="107.65" y1="344.3" x2="111.25" y2="344.3" stroke="#000" stroke-width="1.3"/>
<rect x="106.6" y="350.6" width="5.7" height="34.4" fill="#dcdcdc" stroke="#000" stroke-width="1"/>
<line x1="119" y1="334.2" x2="119" y2="326.1" stroke="#000" stroke-width="1.35"/>
<line x1="117.2" y1="326.1" x2="120.8" y2="326.1" stroke="#000" stroke-width="1.3"/>
<rect x="116.1" y="334.7" width="5.8" height="50.3" fill="#6e6e6e" stroke="#000" stroke-width="1"/>
<rect x="131.7" y="371.6" width="5.8" height="13.4" fill="#fff" stroke="#000" stroke-width="1"/>
<rect x="141.2" y="371.6" width="5.7" height="13.4" fill="#6e6e6e" stroke="#000" stroke-width="1"/>
<line x1="153.8" y1="342" x2="153.8" y2="332.8" stroke="#000" stroke-width="1.35"/>
<line x1="152" y1="332.8" x2="155.6" y2="332.8" stroke="#000" stroke-width="1.3"/>
<rect x="150.9" y="342.5" width="5.8" height="42.5" fill="#dcdcdc" stroke="#000" stroke-width="1"/>
<line x1="163.55" y1="324.7" x2="163.55" y2="310.4" stroke="#000" stroke-width="1.35"/>
<line x1="161.75" y1="310.4" x2="165.35" y2="310.4" stroke="#000" stroke-width="1.3"/>
<rect x="160.6" y="325.2" width="5.9" height="59.8" fill="#6e6e6e" stroke="#000" stroke-width="1"/>
<line x1="38.2" y1="304.8" x2="38.2" y2="385.6" stroke="#000" stroke-width="1.1"/>
<line x1="37.7" y1="385" x2="168.5" y2="385" stroke="#000" stroke-width="1.2"/>
<line x1="36" y1="385" x2="38.2" y2="385" stroke="#000" stroke-width="0.9"/>
<text x="35.2" y="386.76" font-size="4.9" font-weight="bold" fill="#222" text-anchor="end" stroke="#222" stroke-width="0.12">0</text>
<line x1="36" y1="371.72" x2="38.2" y2="371.72" stroke="#000" stroke-width="0.9"/>
<text x="35.2" y="373.48" font-size="4.9" font-weight="bold" fill="#222" text-anchor="end" stroke="#222" stroke-width="0.12">1</text>
<line x1="36" y1="358.43" x2="38.2" y2="358.43" stroke="#000" stroke-width="0.9"/>
<text x="35.2" y="360.2" font-size="4.9" font-weight="bold" fill="#222" text-anchor="end" stroke="#222" stroke-width="0.12">2</text>
<line x1="36" y1="345.15" x2="38.2" y2="345.15" stroke="#000" stroke-width="0.9"/>
<text x="35.2" y="346.91" font-size="4.9" font-weight="bold" fill="#222" text-anchor="end" stroke="#222" stroke-width="0.12">3</text>
<line x1="36" y1="331.87" x2="38.2" y2="331.87" stroke="#000" stroke-width="0.9"/>
<text x="35.2" y="333.63" font-size="4.9" font-weight="bold" fill="#222" text-anchor="end" stroke="#222" stroke-width="0.12">4</text>
<line x1="36" y1="318.58" x2="38.2" y2="318.58" stroke="#000" stroke-width="0.9"/>
<text x="35.2" y="320.35" font-size="4.9" font-weight="bold" fill="#222" text-anchor="end" stroke="#222" stroke-width="0.12">5</text>
<line x1="36" y1="305.3" x2="38.2" y2="305.3" stroke="#000" stroke-width="0.9"/>
<text x="35.2" y="307.06" font-size="4.9" font-weight="bold" fill="#222" text-anchor="end" stroke="#222" stroke-width="0.12">6</text>
<line x1="60.7" y1="385" x2="60.7" y2="387.3" stroke="#000" stroke-width="0.9"/>
<text x="62.9" y="394" font-size="5.8" font-weight="bold" fill="#222" text-anchor="end" transform="rotate(-45 62.9 394)" stroke="#222" stroke-width="0.15">24h</text>
<line x1="105" y1="385" x2="105" y2="387.3" stroke="#000" stroke-width="0.9"/>
<text x="107.2" y="394" font-size="5.8" font-weight="bold" fill="#222" text-anchor="end" transform="rotate(-45 107.2 394)" stroke="#222" stroke-width="0.15">48h</text>
<line x1="149" y1="385" x2="149" y2="387.3" stroke="#000" stroke-width="0.9"/>
<text x="151.2" y="394" font-size="5.8" font-weight="bold" fill="#222" text-anchor="end" transform="rotate(-45 151.2 394)" stroke="#222" stroke-width="0.15">72h</text>
<text x="25.9" y="344.1" font-size="6.7" font-weight="bold" fill="#222" text-anchor="middle" transform="rotate(-90 25.9 344.1)" dominant-baseline="central" xml:space="preserve" stroke="#222" stroke-width="0.08">PD-1 MFI</text>
<text x="59.2" y="297.8" font-size="7.6" font-weight="bold" fill="#111" text-anchor="start" stroke="#111" stroke-width="0.12">PD-1 Expression on CD4<tspan font-size="4.5" dy="-3">+</tspan></text>
<rect x="197" y="381.4" width="5.3" height="3.3" fill="#fff" stroke="#000" stroke-width="1"/>
<rect x="205.9" y="381.4" width="5.3" height="3.3" fill="#6e6e6e" stroke="#000" stroke-width="1"/>
<line x1="217.45" y1="356.7" x2="217.45" y2="350.3" stroke="#000" stroke-width="1.35"/>
<line x1="215.65" y1="350.3" x2="219.25" y2="350.3" stroke="#000" stroke-width="1.3"/>
<rect x="214.8" y="357.2" width="5.3" height="27.5" fill="#dcdcdc" stroke="#000" stroke-width="1"/>
<line x1="226.35" y1="354.4" x2="226.35" y2="348" stroke="#000" stroke-width="1.35"/>
<line x1="224.55" y1="348" x2="228.15" y2="348" stroke="#000" stroke-width="1.3"/>
<rect x="223.7" y="354.9" width="5.3" height="29.8" fill="#6e6e6e" stroke="#000" stroke-width="1"/>
<rect x="238.9" y="381.6" width="5.4" height="3.1" fill="#fff" stroke="#000" stroke-width="1"/>
<rect x="247.9" y="381.4" width="5.3" height="3.3" fill="#6e6e6e" stroke="#000" stroke-width="1"/>
<line x1="260.1" y1="346" x2="260.1" y2="339.6" stroke="#000" stroke-width="1.35"/>
<line x1="258.3" y1="339.6" x2="261.9" y2="339.6" stroke="#000" stroke-width="1.3"/>
<rect x="257.3" y="346.5" width="5.6" height="38.2" fill="#dcdcdc" stroke="#000" stroke-width="1"/>
<line x1="269.35" y1="327.7" x2="269.35" y2="317.2" stroke="#000" stroke-width="1.35"/>
<line x1="267.55" y1="317.2" x2="271.15" y2="317.2" stroke="#000" stroke-width="1.3"/>
<rect x="266.4" y="328.2" width="5.9" height="56.5" fill="#6e6e6e" stroke="#000" stroke-width="1"/>
<rect x="281.7" y="382.1" width="5.4" height="2.6" fill="#fff" stroke="#000" stroke-width="1"/>
<rect x="290.6" y="380.9" width="5.4" height="3.8" fill="#6e6e6e" stroke="#000" stroke-width="1"/>
<line x1="302.7" y1="353.1" x2="302.7" y2="349.3" stroke="#000" stroke-width="1.35"/>
<line x1="300.9" y1="349.3" x2="304.5" y2="349.3" stroke="#000" stroke-width="1.3"/>
<rect x="300" y="353.6" width="5.4" height="31.1" fill="#dcdcdc" stroke="#000" stroke-width="1"/>
<line x1="311.6" y1="337.6" x2="311.6" y2="333.8" stroke="#000" stroke-width="1.35"/>
<line x1="309.8" y1="333.8" x2="313.4" y2="333.8" stroke="#000" stroke-width="1.3"/>
<rect x="308.9" y="338.1" width="5.4" height="46.6" fill="#6e6e6e" stroke="#000" stroke-width="1"/>
<line x1="191.4" y1="306.8" x2="191.4" y2="385.3" stroke="#000" stroke-width="1.1"/>
<line x1="190.9" y1="384.7" x2="317.3" y2="384.7" stroke="#000" stroke-width="1.2"/>
<line x1="189.2" y1="384.7" x2="191.4" y2="384.7" stroke="#000" stroke-width="0.9"/>
<text x="188.4" y="386.46" font-size="4.9" font-weight="bold" fill="#222" text-anchor="end" stroke="#222" stroke-width="0.12">0</text>
<line x1="189.2" y1="369.22" x2="191.4" y2="369.22" stroke="#000" stroke-width="0.9"/>
<text x="188.4" y="370.98" font-size="4.9" font-weight="bold" fill="#222" text-anchor="end" stroke="#222" stroke-width="0.12">5</text>
<line x1="189.2" y1="353.74" x2="191.4" y2="353.74" stroke="#000" stroke-width="0.9"/>
<text x="188.4" y="355.5" font-size="4.9" font-weight="bold" fill="#222" text-anchor="end" stroke="#222" stroke-width="0.12">10</text>
<line x1="189.2" y1="338.26" x2="191.4" y2="338.26" stroke="#000" stroke-width="0.9"/>
<text x="188.4" y="340.02" font-size="4.9" font-weight="bold" fill="#222" text-anchor="end" stroke="#222" stroke-width="0.12">15</text>
<line x1="189.2" y1="322.78" x2="191.4" y2="322.78" stroke="#000" stroke-width="0.9"/>
<text x="188.4" y="324.54" font-size="4.9" font-weight="bold" fill="#222" text-anchor="end" stroke="#222" stroke-width="0.12">20</text>
<line x1="189.2" y1="307.3" x2="191.4" y2="307.3" stroke="#000" stroke-width="0.9"/>
<text x="188.4" y="309.06" font-size="4.9" font-weight="bold" fill="#222" text-anchor="end" stroke="#222" stroke-width="0.12">25</text>
<line x1="213" y1="384.7" x2="213" y2="387" stroke="#000" stroke-width="0.9"/>
<text x="215.2" y="393.7" font-size="5.8" font-weight="bold" fill="#222" text-anchor="end" transform="rotate(-45 215.2 393.7)" stroke="#222" stroke-width="0.15">24h</text>
<line x1="255.6" y1="384.7" x2="255.6" y2="387" stroke="#000" stroke-width="0.9"/>
<text x="257.8" y="393.7" font-size="5.8" font-weight="bold" fill="#222" text-anchor="end" transform="rotate(-45 257.8 393.7)" stroke="#222" stroke-width="0.15">48h</text>
<line x1="298" y1="384.7" x2="298" y2="387" stroke="#000" stroke-width="0.9"/>
<text x="300.2" y="393.7" font-size="5.8" font-weight="bold" fill="#222" text-anchor="end" transform="rotate(-45 300.2 393.7)" stroke="#222" stroke-width="0.15">72h</text>
<text x="176.6" y="344.6" font-size="6.5" font-weight="bold" fill="#222" text-anchor="middle" transform="rotate(-90 176.6 344.6)" dominant-baseline="central" xml:space="preserve" stroke="#222" stroke-width="0.08">PD-L1 MFI</text>
<text x="206.6" y="298.9" font-size="7.6" font-weight="bold" fill="#111" text-anchor="start" stroke="#111" stroke-width="0.12">PD-L1 Expression on CD4<tspan font-size="4.5" dy="-3">+</tspan></text>
<rect x="38.95" y="405.45" width="10.7" height="5.1" fill="#fff" stroke="#000" stroke-width="1.5" rx="0.9"/>
<text x="55.8" y="411" font-size="8.05" font-weight="normal" fill="#333" text-anchor="start" stroke="#333" stroke-width="0.2" textLength="100.1" lengthAdjust="spacingAndGlyphs">control non-complexed cells</text>
<rect x="38.95" y="416.65" width="10.7" height="5.2" fill="url(#pdg)" stroke="#000" stroke-width="1.5" rx="0.9"/>
<text x="55.8" y="422.3" font-size="8.05" font-weight="normal" fill="#333" text-anchor="start" stroke="#333" stroke-width="0.2" textLength="83.2" lengthAdjust="spacingAndGlyphs">control complexed cells</text>
<rect x="178.05" y="406.05" width="10.1" height="4.8" fill="#e4e4e4" stroke="#000" stroke-width="1.5" rx="0.9"/>
<text x="194.7" y="411.3" font-size="8.05" font-weight="normal" fill="#333" text-anchor="start" stroke="#333" stroke-width="0.2" textLength="109.7" lengthAdjust="spacingAndGlyphs">CD3CD28 non-complexed cells</text>
<rect x="178.05" y="417.05" width="10.1" height="5" fill="url(#pdg)" stroke="#000" stroke-width="1.5" rx="0.9"/>
<text x="194.7" y="422.5" font-size="8.05" font-weight="normal" fill="#333" text-anchor="start" stroke="#333" stroke-width="0.2" textLength="93.1" lengthAdjust="spacingAndGlyphs">CD3CD28 complexed cells</text>
<rect x="346.1" y="316.4" width="91.4" height="86.2" fill="#fff" stroke="#9a9a9a" stroke-width="0.7"/>
<g filter="url(#soft)">
<path d="M407 346h1v1h-1zM401 372h1v1h-1zM408 380h1v1h-1zM407 378h1v1h-1zM425 347h1v1h-1zM426 340h1v1h-1zM432 361h1v1h-1zM405 380h1v1h-1zM421 379h1v1h-1zM397 372h1v1h-1zM426 346h1v1h-1zM417 336h1v1h-1zM425 374h1v1h-1zM428 355h1v1h-1zM412 379h1v1h-1zM397 352h1v1h-1zM422 341h1v1h-1zM408 341h1v1h-1zM409 379h1v1h-1zM425 341h1v1h-1zM411 343h1v1h-1zM414 387h1v1h-1zM406 381h1v1h-1zM415 379h1v1h-1zM411 344h1v1h-1zM405 378h1v1h-1zM400 374h1v1h-1zM428 340h1v1h-1zM401 350h1v1h-1zM414 343h1v1h-1zM419 391h1v1h-1zM419 342h1v1h-1zM407 343h1v1h-1zM416 341h1v1h-1zM397 367h1v1h-1zM426 372h1v1h-1zM396 363h1v1h-1zM410 389h1v1h-1zM417 379h1v1h-1zM423 371h1v1h-1zM401 374h1v1h-1zM401 352h1v1h-1zM427 364h1v1h-1zM404 348h1v1h-1zM403 354h1v1h-1zM425 375h1v1h-1zM411 391h1v1h-1zM426 367h1v1h-1zM403 375h1v1h-1zM426 369h1v1h-1zM430 367h1v1h-1zM422 342h1v1h-1zM417 341h1v1h-1zM428 371h1v1h-1zM433 358h1v1h-1zM425 346h1v1h-1zM427 362h1v1h-1zM422 344h1v1h-1zM415 339h1v1h-1zM423 379h1v1h-1zM397 353h1v1h-1zM404 342h1v1h-1zM406 379h1v1h-1zM406 345h1v1h-1zM401 355h1v1h-1zM405 384h1v1h-1zM392 364h1v1h-1zM416 386h1v1h-1zM399 358h1v1h-1zM414 339h1v1h-1zM407 342h1v1h-1zM400 358h1v1h-1zM395 354h1v1h-1zM418 379h1v1h-1zM399 365h1v1h-1zM402 383h1v1h-1zM415 340h1v1h-1zM413 381h1v1h-1zM412 381h1v1h-1zM422 374h1v1h-1zM410 381h1v1h-1zM403 377h1v1h-1zM418 383h1v1h-1zM427 345h1v1h-1zM417 386h1v1h-1zM423 382h1v1h-1zM405 381h1v1h-1zM421 339h1v1h-1zM425 380h1v1h-1zM398 365h1v1h-1zM404 347h1v1h-1zM404 379h1v1h-1zM432 356h1v1h-1zM405 348h1v1h-1zM427 382h1v1h-1zM411 383h1v1h-1zM399 349h1v1h-1zM401 359h1v1h-1zM404 375h1v1h-1zM403 350h1v1h-1zM410 345h1v1h-1zM402 346h1v1h-1zM426 368h1v1h-1zM428 341h1v1h-1zM405 342h1v1h-1zM407 339h1v1h-1zM400 370h1v1h-1zM413 382h1v1h-1zM425 371h1v1h-1zM404 346h1v1h-1zM409 346h1v1h-1zM420 386h1v1h-1zM405 379h1v1h-1zM397 376h1v1h-1zM403 380h1v1h-1zM425 372h1v1h-1zM426 383h1v1h-1zM425 345h1v1h-1zM426 379h1v1h-1zM424 345h1v1h-1zM428 347h1v1h-1zM399 351h1v1h-1zM407 338h1v1h-1zM426 348h1v1h-1zM424 382h1v1h-1zM420 342h1v1h-1zM415 385h1v1h-1zM398 356h1v1h-1zM393 362h1v1h-1zM415 377h1v1h-1zM430 372h1v1h-1zM405 339h1v1h-1zM413 380h1v1h-1zM400 369h1v1h-1zM396 378h1v1h-1zM399 359h1v1h-1zM412 387h1v1h-1zM398 383h1v1h-1zM412 392h1v1h-1zM399 353h1v1h-1zM427 378h1v1h-1zM431 352h1v1h-1zM403 353h1v1h-1zM410 337h1v1h-1zM407 387h1v1h-1zM404 384h1v1h-1zM400 343h1v1h-1zM404 381h1v1h-1zM429 384h1v1h-1zM399 362h1v1h-1zM400 357h1v1h-1zM428 351h1v1h-1zM417 385h1v1h-1zM408 387h1v1h-1zM405 346h1v1h-1zM410 343h1v1h-1zM408 378h1v1h-1zM431 343h1v1h-1zM416 385h1v1h-1zM397 368h1v1h-1zM411 345h1v1h-1zM432 351h1v1h-1zM427 343h1v1h-1zM389 350h1v1h-1zM415 338h1v1h-1zM420 381h1v1h-1zM416 388h1v1h-1zM412 380h1v1h-1zM399 360h1v1h-1zM391 367h1v1h-1zM391 380h1v1h-1zM423 339h1v1h-1zM427 366h1v1h-1zM401 376h1v1h-1zM427 356h1v1h-1zM422 372h1v1h-1zM430 369h1v1h-1zM395 366h1v1h-1zM424 347h1v1h-1zM425 348h1v1h-1zM407 376h1v1h-1zM407 348h1v1h-1zM400 361h1v1h-1zM404 376h1v1h-1zM406 343h1v1h-1zM428 366h1v1h-1zM405 341h1v1h-1zM409 344h1v1h-1zM399 370h1v1h-1zM392 358h1v1h-1zM427 352h1v1h-1zM420 340h1v1h-1zM399 368h1v1h-1zM429 345h1v1h-1zM400 373h1v1h-1zM391 348h1v1h-1zM427 351h1v1h-1zM403 378h1v1h-1zM399 364h1v1h-1zM406 382h1v1h-1zM399 345h1v1h-1zM429 360h1v1h-1zM425 340h1v1h-1zM428 354h1v1h-1zM402 372h1v1h-1zM399 361h1v1h-1zM403 379h1v1h-1zM414 385h1v1h-1zM402 373h1v1h-1zM422 377h1v1h-1zM397 364h1v1h-1zM427 349h1v1h-1zM413 343h1v1h-1zM403 348h1v1h-1zM419 379h1v1h-1zM430 366h1v1h-1zM409 382h1v1h-1zM426 370h1v1h-1zM429 374h1v1h-1zM390 396h1v1h-1zM385 369h1v1h-1zM374 370h1v1h-1zM363 350h1v1h-1zM369 355h1v1h-1zM394 365h1v1h-1zM393 375h1v1h-1zM394 393h1v1h-1zM386 369h1v1h-1zM367 375h1v1h-1zM370 389h1v1h-1zM359 379h1v1h-1z" fill="#6a78e8" fill-opacity="0.55"/>
<path d="M416 376h1v1h-1zM404 357h1v1h-1zM424 359h1v1h-1zM403 352h1v1h-1zM424 365h1v1h-1zM405 370h1v1h-1zM419 373h1v1h-1zM406 353h1v1h-1zM406 373h1v1h-1zM402 363h1v1h-1zM418 344h1v1h-1zM404 354h1v1h-1zM403 369h1v1h-1zM404 371h1v1h-1zM419 377h1v1h-1zM423 363h1v1h-1zM403 351h1v1h-1zM404 364h1v1h-1zM414 377h1v1h-1zM402 357h1v1h-1zM423 351h1v1h-1zM426 350h1v1h-1zM411 379h1v1h-1zM405 353h1v1h-1zM421 346h1v1h-1zM401 366h1v1h-1zM404 370h1v1h-1zM424 350h1v1h-1zM426 359h1v1h-1zM417 376h1v1h-1zM424 366h1v1h-1zM416 343h1v1h-1zM410 378h1v1h-1zM427 354h1v1h-1zM420 346h1v1h-1zM417 378h1v1h-1zM408 377h1v1h-1zM425 360h1v1h-1zM421 371h1v1h-1zM403 357h1v1h-1zM405 360h1v1h-1zM421 348h1v1h-1zM415 346h1v1h-1zM425 363h1v1h-1zM426 355h1v1h-1zM419 375h1v1h-1zM406 371h1v1h-1zM406 352h1v1h-1zM423 364h1v1h-1zM414 347h1v1h-1zM408 373h1v1h-1zM413 376h1v1h-1zM424 374h1v1h-1zM404 369h1v1h-1zM411 376h1v1h-1zM405 349h1v1h-1zM413 345h1v1h-1zM414 344h1v1h-1zM409 348h1v1h-1zM402 369h1v1h-1zM423 375h1v1h-1zM417 346h1v1h-1zM424 353h1v1h-1zM421 345h1v1h-1zM416 379h1v1h-1zM422 370h1v1h-1zM424 367h1v1h-1zM417 375h1v1h-1zM410 348h1v1h-1zM424 357h1v1h-1zM407 352h1v1h-1zM416 342h1v1h-1zM405 352h1v1h-1zM403 362h1v1h-1zM418 375h1v1h-1zM425 359h1v1h-1zM402 368h1v1h-1zM411 377h1v1h-1zM424 369h1v1h-1zM403 366h1v1h-1zM425 361h1v1h-1zM406 351h1v1h-1zM403 370h1v1h-1zM400 368h1v1h-1zM420 345h1v1h-1zM423 367h1v1h-1zM405 355h1v1h-1zM406 372h1v1h-1zM414 378h1v1h-1zM415 347h1v1h-1zM418 345h1v1h-1zM423 368h1v1h-1zM402 360h1v1h-1zM401 369h1v1h-1zM425 364h1v1h-1zM409 374h1v1h-1zM409 376h1v1h-1zM423 349h1v1h-1zM410 347h1v1h-1zM416 345h1v1h-1zM402 358h1v1h-1zM402 365h1v1h-1zM417 345h1v1h-1zM402 364h1v1h-1zM424 360h1v1h-1zM425 352h1v1h-1zM423 369h1v1h-1zM400 365h1v1h-1zM407 373h1v1h-1zM417 374h1v1h-1zM424 375h1v1h-1zM418 376h1v1h-1zM412 347h1v1h-1zM417 344h1v1h-1zM404 366h1v1h-1zM403 361h1v1h-1zM404 356h1v1h-1zM422 368h1v1h-1zM426 351h1v1h-1zM406 374h1v1h-1zM425 356h1v1h-1zM425 358h1v1h-1zM411 378h1v1h-1zM402 361h1v1h-1zM403 359h1v1h-1zM413 346h1v1h-1zM400 364h1v1h-1zM412 376h1v1h-1zM423 350h1v1h-1zM413 375h1v1h-1zM405 369h1v1h-1zM415 343h1v1h-1zM403 360h1v1h-1zM407 351h1v1h-1zM411 348h1v1h-1zM404 363h1v1h-1zM421 374h1v1h-1zM418 374h1v1h-1zM408 376h1v1h-1zM419 344h1v1h-1zM424 362h1v1h-1zM419 343h1v1h-1zM400 367h1v1h-1zM414 375h1v1h-1zM410 376h1v1h-1zM411 347h1v1h-1zM423 374h1v1h-1zM406 350h1v1h-1zM405 350h1v1h-1zM414 379h1v1h-1zM422 373h1v1h-1zM404 368h1v1h-1zM418 377h1v1h-1zM404 350h1v1h-1zM420 371h1v1h-1zM409 372h1v1h-1zM425 353h1v1h-1zM426 352h1v1h-1zM424 349h1v1h-1zM410 346h1v1h-1zM408 348h1v1h-1zM404 374h1v1h-1zM420 374h1v1h-1zM402 370h1v1h-1zM404 360h1v1h-1zM406 354h1v1h-1zM405 372h1v1h-1zM424 363h1v1h-1zM423 373h1v1h-1zM404 372h1v1h-1zM422 375h1v1h-1zM402 359h1v1h-1zM426 358h1v1h-1zM414 346h1v1h-1zM404 367h1v1h-1zM413 377h1v1h-1zM407 349h1v1h-1zM425 351h1v1h-1zM416 377h1v1h-1zM415 378h1v1h-1zM402 366h1v1h-1zM407 377h1v1h-1zM403 371h1v1h-1zM404 351h1v1h-1zM424 364h1v1h-1zM423 366h1v1h-1zM418 342h1v1h-1zM412 346h1v1h-1zM404 365h1v1h-1zM412 378h1v1h-1zM405 356h1v1h-1zM421 372h1v1h-1zM402 371h1v1h-1zM424 355h1v1h-1zM404 353h1v1h-1zM419 345h1v1h-1zM420 373h1v1h-1zM412 377h1v1h-1zM406 375h1v1h-1zM418 343h1v1h-1zM416 344h1v1h-1zM405 361h1v1h-1zM426 362h1v1h-1zM405 375h1v1h-1zM414 345h1v1h-1zM407 353h1v1h-1zM423 346h1v1h-1zM426 363h1v1h-1zM426 364h1v1h-1zM407 350h1v1h-1zM404 352h1v1h-1zM402 362h1v1h-1zM400 363h1v1h-1z" fill="#3a58ee" fill-opacity="0.85"/>
<path d="M421 364h1v1h-1zM422 364h1v1h-1zM422 350h1v1h-1zM410 374h1v1h-1zM406 357h1v1h-1zM414 373h1v1h-1zM420 348h1v1h-1zM423 352h1v1h-1zM423 360h1v1h-1zM406 361h1v1h-1zM424 354h1v1h-1zM414 349h1v1h-1zM409 349h1v1h-1zM411 349h1v1h-1zM406 369h1v1h-1zM418 373h1v1h-1zM412 348h1v1h-1zM405 358h1v1h-1zM405 363h1v1h-1zM418 372h1v1h-1zM410 371h1v1h-1zM422 362h1v1h-1zM410 349h1v1h-1zM422 357h1v1h-1zM416 372h1v1h-1zM407 370h1v1h-1zM420 350h1v1h-1zM407 368h1v1h-1zM407 355h1v1h-1zM419 372h1v1h-1zM405 359h1v1h-1zM422 360h1v1h-1zM423 355h1v1h-1zM405 362h1v1h-1zM420 347h1v1h-1zM420 367h1v1h-1zM406 356h1v1h-1zM416 348h1v1h-1zM405 364h1v1h-1zM418 348h1v1h-1zM418 371h1v1h-1zM406 362h1v1h-1zM411 374h1v1h-1zM422 351h1v1h-1zM407 372h1v1h-1zM406 355h1v1h-1zM423 362h1v1h-1zM421 368h1v1h-1zM420 369h1v1h-1zM422 361h1v1h-1zM419 370h1v1h-1zM406 368h1v1h-1zM419 347h1v1h-1zM424 352h1v1h-1zM417 372h1v1h-1zM421 347h1v1h-1zM407 354h1v1h-1zM405 366h1v1h-1zM410 372h1v1h-1zM414 374h1v1h-1zM406 358h1v1h-1zM405 357h1v1h-1zM404 359h1v1h-1zM418 370h1v1h-1zM408 369h1v1h-1zM406 363h1v1h-1zM417 373h1v1h-1zM423 359h1v1h-1zM421 369h1v1h-1zM421 360h1v1h-1zM417 371h1v1h-1zM411 373h1v1h-1zM423 357h1v1h-1zM416 347h1v1h-1zM422 366h1v1h-1zM410 373h1v1h-1zM418 369h1v1h-1zM418 347h1v1h-1zM413 374h1v1h-1zM422 352h1v1h-1zM421 366h1v1h-1zM421 370h1v1h-1zM422 353h1v1h-1zM420 368h1v1h-1zM408 351h1v1h-1zM404 358h1v1h-1zM413 348h1v1h-1zM421 350h1v1h-1zM423 354h1v1h-1zM415 374h1v1h-1zM423 356h1v1h-1zM416 346h1v1h-1zM423 353h1v1h-1zM421 349h1v1h-1zM422 367h1v1h-1zM416 374h1v1h-1zM407 371h1v1h-1zM408 372h1v1h-1zM408 353h1v1h-1zM418 349h1v1h-1zM408 350h1v1h-1zM412 374h1v1h-1zM405 368h1v1h-1zM408 352h1v1h-1zM422 363h1v1h-1zM423 358h1v1h-1zM423 361h1v1h-1zM411 375h1v1h-1zM424 361h1v1h-1zM405 367h1v1h-1zM409 371h1v1h-1zM415 373h1v1h-1zM419 371h1v1h-1zM420 372h1v1h-1z" fill="#2a72ea" fill-opacity="1"/>
<path d="M417 368h1v1h-1zM406 366h1v1h-1zM407 367h1v1h-1zM419 369h1v1h-1zM407 360h1v1h-1zM420 360h1v1h-1zM407 358h1v1h-1zM407 362h1v1h-1zM420 351h1v1h-1zM415 370h1v1h-1zM408 355h1v1h-1zM413 371h1v1h-1zM413 370h1v1h-1zM422 355h1v1h-1zM408 363h1v1h-1zM421 361h1v1h-1zM421 355h1v1h-1zM421 365h1v1h-1zM420 352h1v1h-1zM408 361h1v1h-1zM409 355h1v1h-1zM410 351h1v1h-1zM415 371h1v1h-1zM412 371h1v1h-1zM418 351h1v1h-1zM406 364h1v1h-1zM407 359h1v1h-1zM413 372h1v1h-1zM406 365h1v1h-1zM414 372h1v1h-1zM420 365h1v1h-1zM421 354h1v1h-1zM416 371h1v1h-1zM409 352h1v1h-1zM409 353h1v1h-1zM407 365h1v1h-1zM408 370h1v1h-1zM422 359h1v1h-1zM416 369h1v1h-1zM420 366h1v1h-1zM420 349h1v1h-1zM413 349h1v1h-1zM407 357h1v1h-1zM419 366h1v1h-1zM417 348h1v1h-1zM412 370h1v1h-1zM407 356h1v1h-1zM413 350h1v1h-1zM407 364h1v1h-1zM408 366h1v1h-1zM414 351h1v1h-1zM408 365h1v1h-1zM422 356h1v1h-1zM416 367h1v1h-1zM408 367h1v1h-1zM419 368h1v1h-1zM416 349h1v1h-1zM421 357h1v1h-1zM418 350h1v1h-1zM409 370h1v1h-1zM410 369h1v1h-1zM422 354h1v1h-1zM419 350h1v1h-1zM421 363h1v1h-1zM418 368h1v1h-1zM416 370h1v1h-1zM421 353h1v1h-1zM411 371h1v1h-1zM408 354h1v1h-1zM415 348h1v1h-1zM420 358h1v1h-1zM417 369h1v1h-1zM413 373h1v1h-1zM408 368h1v1h-1zM421 359h1v1h-1zM414 370h1v1h-1zM414 371h1v1h-1zM422 358h1v1h-1zM415 350h1v1h-1zM416 351h1v1h-1zM410 350h1v1h-1zM421 358h1v1h-1zM407 366h1v1h-1zM412 373h1v1h-1zM420 356h1v1h-1zM412 349h1v1h-1zM409 351h1v1h-1zM408 371h1v1h-1zM415 369h1v1h-1zM415 349h1v1h-1zM406 360h1v1h-1zM411 370h1v1h-1zM422 365h1v1h-1zM411 372h1v1h-1zM417 349h1v1h-1zM407 369h1v1h-1zM410 352h1v1h-1zM417 370h1v1h-1zM410 370h1v1h-1zM406 367h1v1h-1zM409 369h1v1h-1zM421 352h1v1h-1z" fill="#1ea4d4" fill-opacity="1"/>
<path d="M410 358h1v1h-1zM409 366h1v1h-1zM416 350h1v1h-1zM420 359h1v1h-1zM411 361h1v1h-1zM408 360h1v1h-1zM411 365h1v1h-1zM420 361h1v1h-1zM420 357h1v1h-1zM417 353h1v1h-1zM410 368h1v1h-1zM408 359h1v1h-1zM408 362h1v1h-1zM418 365h1v1h-1zM415 366h1v1h-1zM419 353h1v1h-1zM418 366h1v1h-1zM416 366h1v1h-1zM417 365h1v1h-1zM419 351h1v1h-1zM412 372h1v1h-1zM420 363h1v1h-1zM409 364h1v1h-1zM419 363h1v1h-1zM410 366h1v1h-1zM421 362h1v1h-1zM409 361h1v1h-1zM411 355h1v1h-1zM419 365h1v1h-1zM420 353h1v1h-1zM419 356h1v1h-1zM417 350h1v1h-1zM408 356h1v1h-1zM413 369h1v1h-1zM408 364h1v1h-1zM412 352h1v1h-1zM420 362h1v1h-1zM409 354h1v1h-1zM411 353h1v1h-1zM409 368h1v1h-1zM410 354h1v1h-1zM415 351h1v1h-1zM418 353h1v1h-1zM420 364h1v1h-1zM411 352h1v1h-1zM407 361h1v1h-1zM411 369h1v1h-1zM411 368h1v1h-1zM408 357h1v1h-1zM417 366h1v1h-1zM415 367h1v1h-1zM412 368h1v1h-1zM414 350h1v1h-1zM412 367h1v1h-1zM420 355h1v1h-1zM411 351h1v1h-1zM417 351h1v1h-1zM415 368h1v1h-1zM409 358h1v1h-1zM412 364h1v1h-1zM409 356h1v1h-1zM409 365h1v1h-1zM412 350h1v1h-1zM417 367h1v1h-1zM409 367h1v1h-1zM416 353h1v1h-1zM420 354h1v1h-1zM409 362h1v1h-1zM411 366h1v1h-1zM411 350h1v1h-1zM418 354h1v1h-1zM412 351h1v1h-1zM416 368h1v1h-1zM410 367h1v1h-1zM419 352h1v1h-1zM418 352h1v1h-1zM419 354h1v1h-1zM414 369h1v1h-1zM412 369h1v1h-1zM413 351h1v1h-1zM414 368h1v1h-1zM421 356h1v1h-1zM408 358h1v1h-1zM410 359h1v1h-1zM418 367h1v1h-1z" fill="#20bc98" fill-opacity="1"/>
<path d="M416 361h1v1h-1zM417 355h1v1h-1zM417 364h1v1h-1zM410 362h1v1h-1zM410 361h1v1h-1zM410 356h1v1h-1zM410 355h1v1h-1zM413 367h1v1h-1zM416 365h1v1h-1zM412 360h1v1h-1zM411 364h1v1h-1zM413 365h1v1h-1zM411 356h1v1h-1zM414 365h1v1h-1zM415 356h1v1h-1zM411 360h1v1h-1zM411 357h1v1h-1zM419 355h1v1h-1zM413 366h1v1h-1zM419 357h1v1h-1zM419 360h1v1h-1zM414 356h1v1h-1zM413 352h1v1h-1zM415 353h1v1h-1zM417 358h1v1h-1zM419 359h1v1h-1zM414 366h1v1h-1zM418 364h1v1h-1zM413 354h1v1h-1zM417 362h1v1h-1zM413 357h1v1h-1zM410 364h1v1h-1zM410 365h1v1h-1zM417 354h1v1h-1zM410 357h1v1h-1zM415 363h1v1h-1zM411 363h1v1h-1zM418 357h1v1h-1zM411 359h1v1h-1zM414 367h1v1h-1zM417 357h1v1h-1zM418 363h1v1h-1zM412 356h1v1h-1zM415 365h1v1h-1zM417 352h1v1h-1zM416 354h1v1h-1zM418 356h1v1h-1zM412 354h1v1h-1zM417 360h1v1h-1zM413 353h1v1h-1zM416 355h1v1h-1zM417 363h1v1h-1zM409 357h1v1h-1zM418 358h1v1h-1zM411 367h1v1h-1zM419 361h1v1h-1zM416 352h1v1h-1zM418 359h1v1h-1zM409 360h1v1h-1zM416 364h1v1h-1zM411 354h1v1h-1zM416 359h1v1h-1zM419 358h1v1h-1zM414 353h1v1h-1zM412 365h1v1h-1zM418 361h1v1h-1zM413 356h1v1h-1zM414 355h1v1h-1zM412 358h1v1h-1zM414 352h1v1h-1zM412 353h1v1h-1zM412 366h1v1h-1zM413 368h1v1h-1zM413 355h1v1h-1zM419 364h1v1h-1zM410 363h1v1h-1zM415 352h1v1h-1zM418 355h1v1h-1zM409 359h1v1h-1zM415 354h1v1h-1zM419 362h1v1h-1zM412 355h1v1h-1zM414 354h1v1h-1zM412 357h1v1h-1zM409 363h1v1h-1z" fill="#3cc85c" fill-opacity="1"/>
<path d="M413 359h1v1h-1zM416 356h1v1h-1zM415 364h1v1h-1zM417 359h1v1h-1zM412 363h1v1h-1zM412 361h1v1h-1zM414 362h1v1h-1zM412 359h1v1h-1zM413 363h1v1h-1zM416 362h1v1h-1zM414 361h1v1h-1zM411 358h1v1h-1zM414 359h1v1h-1zM418 360h1v1h-1zM417 356h1v1h-1zM414 357h1v1h-1zM416 363h1v1h-1zM414 358h1v1h-1zM415 359h1v1h-1zM418 362h1v1h-1zM411 362h1v1h-1zM414 364h1v1h-1zM410 360h1v1h-1zM416 357h1v1h-1zM415 355h1v1h-1z" fill="#a8c840" fill-opacity="1"/>
<path d="M417 361h1v1h-1zM413 360h1v1h-1zM412 362h1v1h-1zM413 361h1v1h-1zM415 360h1v1h-1zM413 362h1v1h-1zM415 362h1v1h-1zM414 360h1v1h-1zM416 360h1v1h-1zM416 358h1v1h-1zM415 361h1v1h-1zM415 358h1v1h-1zM415 357h1v1h-1zM413 364h1v1h-1zM414 363h1v1h-1zM413 358h1v1h-1z" fill="#e09a30" fill-opacity="1"/>
</g>
<line x1="386" y1="316.4" x2="386" y2="402.6" stroke="#222" stroke-width="1.1"/>
<line x1="346.1" y1="373.3" x2="437.5" y2="373.3" stroke="#222" stroke-width="1.1"/>
<line x1="346.1" y1="316.4" x2="346.1" y2="402.6" stroke="#111" stroke-width="1"/>
<line x1="346.1" y1="402.6" x2="437.5" y2="402.6" stroke="#111" stroke-width="1"/>
<line x1="343.9" y1="319.2" x2="346.1" y2="319.2" stroke="#111" stroke-width="1"/>
<text x="342.7" y="320.2" font-size="3.4" font-weight="normal" fill="#5a9a78" text-anchor="end">10<tspan font-size="2.6" dy="-1.6">3</tspan></text>
<line x1="343.9" y1="335.6" x2="346.1" y2="335.6" stroke="#111" stroke-width="1"/>
<text x="342.7" y="336.6" font-size="3.4" font-weight="normal" fill="#5a9a78" text-anchor="end">10<tspan font-size="2.6" dy="-1.6">2</tspan></text>
<line x1="343.9" y1="354" x2="346.1" y2="354" stroke="#111" stroke-width="1"/>
<text x="342.7" y="355" font-size="3.4" font-weight="normal" fill="#5a9a78" text-anchor="end">10<tspan font-size="2.6" dy="-1.6">1</tspan></text>
<line x1="343.9" y1="372.8" x2="346.1" y2="372.8" stroke="#111" stroke-width="1"/>
<text x="342.7" y="373.8" font-size="3.4" font-weight="normal" fill="#5a9a78" text-anchor="end">10<tspan font-size="2.6" dy="-1.6">0</tspan></text>
<line x1="343.9" y1="392" x2="346.1" y2="392" stroke="#111" stroke-width="1"/>
<text x="342.7" y="393" font-size="3.4" font-weight="normal" fill="#5a9a78" text-anchor="end">10<tspan font-size="2.6" dy="-1.6">-1</tspan></text>
<line x1="345.1" y1="320.71" x2="346.1" y2="320.71" stroke="#333" stroke-width="0.5"/>
<line x1="345.1" y1="325.02" x2="346.1" y2="325.02" stroke="#333" stroke-width="0.5"/>
<line x1="345.1" y1="329.33" x2="346.1" y2="329.33" stroke="#333" stroke-width="0.5"/>
<line x1="345.1" y1="333.64" x2="346.1" y2="333.64" stroke="#333" stroke-width="0.5"/>
<line x1="345.1" y1="337.95" x2="346.1" y2="337.95" stroke="#333" stroke-width="0.5"/>
<line x1="345.1" y1="342.26" x2="346.1" y2="342.26" stroke="#333" stroke-width="0.5"/>
<line x1="345.1" y1="346.57" x2="346.1" y2="346.57" stroke="#333" stroke-width="0.5"/>
<line x1="345.1" y1="350.88" x2="346.1" y2="350.88" stroke="#333" stroke-width="0.5"/>
<line x1="345.1" y1="355.19" x2="346.1" y2="355.19" stroke="#333" stroke-width="0.5"/>
<line x1="345.1" y1="359.5" x2="346.1" y2="359.5" stroke="#333" stroke-width="0.5"/>
<line x1="345.1" y1="363.81" x2="346.1" y2="363.81" stroke="#333" stroke-width="0.5"/>
<line x1="345.1" y1="368.12" x2="346.1" y2="368.12" stroke="#333" stroke-width="0.5"/>
<line x1="345.1" y1="372.43" x2="346.1" y2="372.43" stroke="#333" stroke-width="0.5"/>
<line x1="345.1" y1="376.74" x2="346.1" y2="376.74" stroke="#333" stroke-width="0.5"/>
<line x1="345.1" y1="381.05" x2="346.1" y2="381.05" stroke="#333" stroke-width="0.5"/>
<line x1="345.1" y1="385.36" x2="346.1" y2="385.36" stroke="#333" stroke-width="0.5"/>
<line x1="345.1" y1="389.67" x2="346.1" y2="389.67" stroke="#333" stroke-width="0.5"/>
<line x1="345.1" y1="393.98" x2="346.1" y2="393.98" stroke="#333" stroke-width="0.5"/>
<line x1="345.1" y1="398.29" x2="346.1" y2="398.29" stroke="#333" stroke-width="0.5"/>
<line x1="349.7" y1="402.6" x2="349.7" y2="404.8" stroke="#111" stroke-width="1"/>
<text x="350.7" y="408.8" font-size="3.4" font-weight="normal" fill="#5a9a78" text-anchor="middle">10<tspan font-size="2.6" dy="-1.6">-2</tspan></text>
<line x1="365.3" y1="402.6" x2="365.3" y2="404.8" stroke="#111" stroke-width="1"/>
<text x="366.3" y="408.8" font-size="3.4" font-weight="normal" fill="#5a9a78" text-anchor="middle">10<tspan font-size="2.6" dy="-1.6">-1</tspan></text>
<line x1="385.5" y1="402.6" x2="385.5" y2="404.8" stroke="#111" stroke-width="1"/>
<text x="386.5" y="408.8" font-size="3.4" font-weight="normal" fill="#5a9a78" text-anchor="middle">10<tspan font-size="2.6" dy="-1.6">0</tspan></text>
<line x1="401.5" y1="402.6" x2="401.5" y2="404.8" stroke="#111" stroke-width="1"/>
<text x="402.5" y="408.8" font-size="3.4" font-weight="normal" fill="#5a9a78" text-anchor="middle">10<tspan font-size="2.6" dy="-1.6">1</tspan></text>
<line x1="420.4" y1="402.6" x2="420.4" y2="404.8" stroke="#111" stroke-width="1"/>
<text x="421.4" y="408.8" font-size="3.4" font-weight="normal" fill="#5a9a78" text-anchor="middle">10<tspan font-size="2.6" dy="-1.6">2</tspan></text>
<line x1="434.3" y1="402.6" x2="434.3" y2="404.8" stroke="#111" stroke-width="1"/>
<text x="435.3" y="408.8" font-size="3.4" font-weight="normal" fill="#5a9a78" text-anchor="middle">10<tspan font-size="2.6" dy="-1.6">3</tspan></text>
<line x1="349.91" y1="402.6" x2="349.91" y2="403.6" stroke="#333" stroke-width="0.5"/>
<line x1="353.72" y1="402.6" x2="353.72" y2="403.6" stroke="#333" stroke-width="0.5"/>
<line x1="357.53" y1="402.6" x2="357.53" y2="403.6" stroke="#333" stroke-width="0.5"/>
<line x1="361.33" y1="402.6" x2="361.33" y2="403.6" stroke="#333" stroke-width="0.5"/>
<line x1="365.14" y1="402.6" x2="365.14" y2="403.6" stroke="#333" stroke-width="0.5"/>
<line x1="368.95" y1="402.6" x2="368.95" y2="403.6" stroke="#333" stroke-width="0.5"/>
<line x1="372.76" y1="402.6" x2="372.76" y2="403.6" stroke="#333" stroke-width="0.5"/>
<line x1="376.57" y1="402.6" x2="376.57" y2="403.6" stroke="#333" stroke-width="0.5"/>
<line x1="380.38" y1="402.6" x2="380.38" y2="403.6" stroke="#333" stroke-width="0.5"/>
<line x1="384.18" y1="402.6" x2="384.18" y2="403.6" stroke="#333" stroke-width="0.5"/>
<line x1="387.99" y1="402.6" x2="387.99" y2="403.6" stroke="#333" stroke-width="0.5"/>
<line x1="391.8" y1="402.6" x2="391.8" y2="403.6" stroke="#333" stroke-width="0.5"/>
<line x1="395.61" y1="402.6" x2="395.61" y2="403.6" stroke="#333" stroke-width="0.5"/>
<line x1="399.42" y1="402.6" x2="399.42" y2="403.6" stroke="#333" stroke-width="0.5"/>
<line x1="403.23" y1="402.6" x2="403.23" y2="403.6" stroke="#333" stroke-width="0.5"/>
<line x1="407.03" y1="402.6" x2="407.03" y2="403.6" stroke="#333" stroke-width="0.5"/>
<line x1="410.84" y1="402.6" x2="410.84" y2="403.6" stroke="#333" stroke-width="0.5"/>
<line x1="414.65" y1="402.6" x2="414.65" y2="403.6" stroke="#333" stroke-width="0.5"/>
<line x1="418.46" y1="402.6" x2="418.46" y2="403.6" stroke="#333" stroke-width="0.5"/>
<line x1="422.27" y1="402.6" x2="422.27" y2="403.6" stroke="#333" stroke-width="0.5"/>
<line x1="426.07" y1="402.6" x2="426.07" y2="403.6" stroke="#333" stroke-width="0.5"/>
<line x1="429.88" y1="402.6" x2="429.88" y2="403.6" stroke="#333" stroke-width="0.5"/>
<line x1="433.69" y1="402.6" x2="433.69" y2="403.6" stroke="#333" stroke-width="0.5"/>
<text x="348.7" y="322" font-size="4.2" font-weight="normal" fill="#7a4868" text-anchor="start" stroke-width="0.05" stroke="#7a4868">PD1+</text>
<text x="348.7" y="328" font-size="4.2" font-weight="normal" fill="#333" text-anchor="start" stroke-width="0.05" stroke="#333">0,77</text>
<text x="423.7" y="322" font-size="4.2" font-weight="normal" fill="#7a4868" text-anchor="end" stroke-width="0.05" stroke="#7a4868">PD1+PDL1+</text>
<text x="423.7" y="328" font-size="4.2" font-weight="normal" fill="#333" text-anchor="end" stroke-width="0.05" stroke="#333">91,1</text>
<text x="348.7" y="392.4" font-size="4.2" font-weight="normal" fill="#7a4868" text-anchor="start" stroke-width="0.05" stroke="#7a4868">DN</text>
<text x="348.7" y="397.6" font-size="4.2" font-weight="normal" fill="#333" text-anchor="start" stroke-width="0.05" stroke="#333">0,60</text>
<text x="429.7" y="392.4" font-size="4.2" font-weight="normal" fill="#7a4868" text-anchor="end" stroke-width="0.05" stroke="#7a4868">PDL1</text>
<text x="429.7" y="397.6" font-size="4.2" font-weight="normal" fill="#333" text-anchor="end" stroke-width="0.05" stroke="#333">7,56</text>
<text x="356.4" y="315.2" font-size="7.45" font-weight="bold" fill="#111" text-anchor="start" textLength="74" lengthAdjust="spacingAndGlyphs" stroke="#111" stroke-width="0.15">non-complexed cells</text>
<rect x="448" y="317" width="91.2" height="85.6" fill="#fff" stroke="#9a9a9a" stroke-width="0.7"/>
<g filter="url(#soft)">
<path d="M531 363h1v1h-1zM509 377h1v1h-1zM514 380h1v1h-1zM510 384h1v1h-1zM529 373h1v1h-1zM519 343h1v1h-1zM508 377h1v1h-1zM524 342h1v1h-1zM507 351h1v1h-1zM531 347h1v1h-1zM501 359h1v1h-1zM503 350h1v1h-1zM521 401h1v1h-1zM503 372h1v1h-1zM511 344h1v1h-1zM521 339h1v1h-1zM506 349h1v1h-1zM529 366h1v1h-1zM511 341h1v1h-1zM532 355h1v1h-1zM500 359h1v1h-1zM507 348h1v1h-1zM507 346h1v1h-1zM528 349h1v1h-1zM506 354h1v1h-1zM511 381h1v1h-1zM503 357h1v1h-1zM516 339h1v1h-1zM503 362h1v1h-1zM521 388h1v1h-1zM526 374h1v1h-1zM530 349h1v1h-1zM518 381h1v1h-1zM532 351h1v1h-1zM532 343h1v1h-1zM529 371h1v1h-1zM521 338h1v1h-1zM508 378h1v1h-1zM505 376h1v1h-1zM512 379h1v1h-1zM518 379h1v1h-1zM510 347h1v1h-1zM505 374h1v1h-1zM523 376h1v1h-1zM519 336h1v1h-1zM520 384h1v1h-1zM532 338h1v1h-1zM519 378h1v1h-1zM531 379h1v1h-1zM509 380h1v1h-1zM506 378h1v1h-1zM532 387h1v1h-1zM490 361h1v1h-1zM518 378h1v1h-1zM532 356h1v1h-1zM503 376h1v1h-1zM515 335h1v1h-1zM518 382h1v1h-1zM528 376h1v1h-1zM506 348h1v1h-1zM503 370h1v1h-1zM511 377h1v1h-1zM509 375h1v1h-1zM527 374h1v1h-1zM530 380h1v1h-1zM509 384h1v1h-1zM505 350h1v1h-1zM506 353h1v1h-1zM516 343h1v1h-1zM533 356h1v1h-1zM533 347h1v1h-1zM508 380h1v1h-1zM529 346h1v1h-1zM505 384h1v1h-1zM517 342h1v1h-1zM512 338h1v1h-1zM521 343h1v1h-1zM505 367h1v1h-1zM517 388h1v1h-1zM523 375h1v1h-1zM533 361h1v1h-1zM500 345h1v1h-1zM512 346h1v1h-1zM524 378h1v1h-1zM518 341h1v1h-1zM497 353h1v1h-1zM528 347h1v1h-1zM524 376h1v1h-1zM527 349h1v1h-1zM533 362h1v1h-1zM538 379h1v1h-1zM503 371h1v1h-1zM508 336h1v1h-1zM532 364h1v1h-1zM506 352h1v1h-1zM501 350h1v1h-1zM510 341h1v1h-1zM535 342h1v1h-1zM504 342h1v1h-1zM527 346h1v1h-1zM501 378h1v1h-1zM506 372h1v1h-1zM507 374h1v1h-1zM504 382h1v1h-1zM526 341h1v1h-1zM506 369h1v1h-1zM527 372h1v1h-1zM515 345h1v1h-1zM525 334h1v1h-1zM519 332h1v1h-1zM519 376h1v1h-1zM525 375h1v1h-1zM513 381h1v1h-1zM532 362h1v1h-1zM515 383h1v1h-1zM531 372h1v1h-1zM514 383h1v1h-1zM497 383h1v1h-1zM505 356h1v1h-1zM526 345h1v1h-1zM508 344h1v1h-1zM529 348h1v1h-1zM521 377h1v1h-1zM489 365h1v1h-1zM529 375h1v1h-1zM514 385h1v1h-1zM506 347h1v1h-1zM521 335h1v1h-1zM513 337h1v1h-1zM513 378h1v1h-1zM525 343h1v1h-1zM516 390h1v1h-1zM531 351h1v1h-1zM503 359h1v1h-1zM501 363h1v1h-1zM532 359h1v1h-1zM503 358h1v1h-1zM498 359h1v1h-1zM532 361h1v1h-1zM512 378h1v1h-1zM504 365h1v1h-1zM505 355h1v1h-1zM515 341h1v1h-1zM508 347h1v1h-1zM533 378h1v1h-1zM519 341h1v1h-1zM530 350h1v1h-1zM502 371h1v1h-1zM527 380h1v1h-1zM507 378h1v1h-1zM506 377h1v1h-1zM511 388h1v1h-1zM533 353h1v1h-1zM510 379h1v1h-1zM532 347h1v1h-1zM501 372h1v1h-1zM508 385h1v1h-1zM501 364h1v1h-1zM516 381h1v1h-1zM532 373h1v1h-1zM525 374h1v1h-1zM501 371h1v1h-1zM516 382h1v1h-1zM527 345h1v1h-1zM513 336h1v1h-1zM528 377h1v1h-1zM529 367h1v1h-1zM515 382h1v1h-1zM528 375h1v1h-1zM504 373h1v1h-1zM531 365h1v1h-1zM533 344h1v1h-1zM525 372h1v1h-1zM520 378h1v1h-1zM498 358h1v1h-1zM520 379h1v1h-1zM501 345h1v1h-1zM530 346h1v1h-1zM521 382h1v1h-1zM507 376h1v1h-1zM521 380h1v1h-1zM502 368h1v1h-1zM534 359h1v1h-1zM516 378h1v1h-1zM522 379h1v1h-1zM511 343h1v1h-1zM512 341h1v1h-1zM528 369h1v1h-1zM529 384h1v1h-1zM512 344h1v1h-1zM527 348h1v1h-1zM515 340h1v1h-1zM504 383h1v1h-1zM531 371h1v1h-1zM518 339h1v1h-1zM516 380h1v1h-1zM527 332h1v1h-1zM515 381h1v1h-1zM536 364h1v1h-1zM524 343h1v1h-1zM513 342h1v1h-1zM532 358h1v1h-1zM522 342h1v1h-1zM515 336h1v1h-1zM522 338h1v1h-1zM516 344h1v1h-1zM497 361h1v1h-1zM515 378h1v1h-1zM509 385h1v1h-1zM523 344h1v1h-1zM525 394h1v1h-1zM520 383h1v1h-1zM496 401h1v1h-1zM502 367h1v1h-1zM506 342h1v1h-1zM517 379h1v1h-1zM521 340h1v1h-1zM529 368h1v1h-1zM531 349h1v1h-1zM505 371h1v1h-1zM502 372h1v1h-1zM533 369h1v1h-1zM526 338h1v1h-1zM500 376h1v1h-1zM507 394h1v1h-1zM519 377h1v1h-1zM529 352h1v1h-1zM506 373h1v1h-1zM529 341h1v1h-1zM533 360h1v1h-1zM531 353h1v1h-1zM507 342h1v1h-1zM504 366h1v1h-1zM506 368h1v1h-1zM488 349h1v1h-1zM483 366h1v1h-1zM473 368h1v1h-1zM473 388h1v1h-1zM496 376h1v1h-1zM487 390h1v1h-1zM464 371h1v1h-1zM461 386h1v1h-1zM495 354h1v1h-1zM476 379h1v1h-1zM481 349h1v1h-1zM476 364h1v1h-1z" fill="#6a78e8" fill-opacity="0.55"/>
<path d="M507 353h1v1h-1zM531 358h1v1h-1zM526 365h1v1h-1zM509 369h1v1h-1zM505 365h1v1h-1zM519 342h1v1h-1zM529 355h1v1h-1zM529 362h1v1h-1zM525 352h1v1h-1zM510 348h1v1h-1zM510 377h1v1h-1zM512 373h1v1h-1zM511 348h1v1h-1zM509 353h1v1h-1zM527 352h1v1h-1zM518 345h1v1h-1zM507 363h1v1h-1zM530 355h1v1h-1zM524 345h1v1h-1zM519 346h1v1h-1zM519 374h1v1h-1zM516 346h1v1h-1zM526 353h1v1h-1zM526 352h1v1h-1zM530 358h1v1h-1zM531 359h1v1h-1zM529 353h1v1h-1zM519 345h1v1h-1zM524 369h1v1h-1zM508 368h1v1h-1zM507 370h1v1h-1zM525 371h1v1h-1zM524 346h1v1h-1zM518 376h1v1h-1zM522 372h1v1h-1zM504 364h1v1h-1zM527 367h1v1h-1zM509 352h1v1h-1zM522 346h1v1h-1zM530 363h1v1h-1zM528 359h1v1h-1zM508 370h1v1h-1zM507 367h1v1h-1zM522 373h1v1h-1zM510 373h1v1h-1zM512 375h1v1h-1zM514 346h1v1h-1zM506 358h1v1h-1zM516 376h1v1h-1zM506 364h1v1h-1zM507 366h1v1h-1zM517 374h1v1h-1zM518 343h1v1h-1zM509 370h1v1h-1zM528 355h1v1h-1zM508 351h1v1h-1zM526 348h1v1h-1zM520 345h1v1h-1zM512 350h1v1h-1zM508 350h1v1h-1zM515 376h1v1h-1zM520 373h1v1h-1zM527 354h1v1h-1zM524 351h1v1h-1zM523 346h1v1h-1zM508 355h1v1h-1zM505 359h1v1h-1zM514 375h1v1h-1zM524 372h1v1h-1zM526 369h1v1h-1zM511 350h1v1h-1zM510 369h1v1h-1zM507 354h1v1h-1zM529 357h1v1h-1zM528 350h1v1h-1zM508 374h1v1h-1zM513 374h1v1h-1zM513 345h1v1h-1zM525 349h1v1h-1zM505 357h1v1h-1zM525 370h1v1h-1zM520 346h1v1h-1zM517 375h1v1h-1zM516 375h1v1h-1zM506 357h1v1h-1zM527 365h1v1h-1zM522 345h1v1h-1zM506 361h1v1h-1zM515 377h1v1h-1zM508 369h1v1h-1zM507 362h1v1h-1zM508 371h1v1h-1zM525 369h1v1h-1zM505 358h1v1h-1zM526 349h1v1h-1zM506 360h1v1h-1zM513 346h1v1h-1zM504 363h1v1h-1zM528 362h1v1h-1zM529 356h1v1h-1zM518 344h1v1h-1zM510 352h1v1h-1zM509 371h1v1h-1zM529 365h1v1h-1zM512 376h1v1h-1zM524 371h1v1h-1zM517 376h1v1h-1zM524 344h1v1h-1zM527 351h1v1h-1zM510 372h1v1h-1zM506 359h1v1h-1zM525 351h1v1h-1zM528 366h1v1h-1zM509 349h1v1h-1zM528 353h1v1h-1zM522 344h1v1h-1zM511 351h1v1h-1zM513 375h1v1h-1zM525 350h1v1h-1zM529 363h1v1h-1zM507 364h1v1h-1zM527 357h1v1h-1zM509 372h1v1h-1zM528 354h1v1h-1zM518 342h1v1h-1zM528 360h1v1h-1zM523 345h1v1h-1zM510 349h1v1h-1zM513 348h1v1h-1zM523 372h1v1h-1zM507 356h1v1h-1zM530 362h1v1h-1zM516 345h1v1h-1zM529 361h1v1h-1zM512 377h1v1h-1zM505 363h1v1h-1zM530 353h1v1h-1zM503 363h1v1h-1zM508 367h1v1h-1zM527 353h1v1h-1zM528 352h1v1h-1zM506 356h1v1h-1zM525 344h1v1h-1zM507 361h1v1h-1zM509 351h1v1h-1zM505 361h1v1h-1zM523 374h1v1h-1zM511 372h1v1h-1zM512 347h1v1h-1zM531 357h1v1h-1zM527 368h1v1h-1zM514 347h1v1h-1zM507 369h1v1h-1zM530 357h1v1h-1zM508 372h1v1h-1zM530 356h1v1h-1zM508 352h1v1h-1zM515 346h1v1h-1zM507 355h1v1h-1zM515 375h1v1h-1zM509 350h1v1h-1zM514 377h1v1h-1zM511 347h1v1h-1zM507 365h1v1h-1zM520 343h1v1h-1zM513 376h1v1h-1zM525 345h1v1h-1zM510 350h1v1h-1zM520 374h1v1h-1zM528 351h1v1h-1zM530 360h1v1h-1zM511 371h1v1h-1zM510 371h1v1h-1zM511 375h1v1h-1zM528 363h1v1h-1zM509 373h1v1h-1zM519 375h1v1h-1zM515 347h1v1h-1zM531 355h1v1h-1zM524 349h1v1h-1zM524 374h1v1h-1zM520 344h1v1h-1zM530 354h1v1h-1zM518 346h1v1h-1zM530 361h1v1h-1zM504 358h1v1h-1zM508 353h1v1h-1zM510 374h1v1h-1zM505 360h1v1h-1zM519 344h1v1h-1zM527 361h1v1h-1zM507 358h1v1h-1zM529 360h1v1h-1zM508 375h1v1h-1zM512 348h1v1h-1zM508 373h1v1h-1zM514 345h1v1h-1zM525 346h1v1h-1zM513 377h1v1h-1zM507 372h1v1h-1zM523 373h1v1h-1zM511 374h1v1h-1zM511 376h1v1h-1z" fill="#3a58ee" fill-opacity="0.85"/>
<path d="M522 349h1v1h-1zM508 365h1v1h-1zM516 374h1v1h-1zM523 351h1v1h-1zM527 362h1v1h-1zM509 361h1v1h-1zM517 347h1v1h-1zM508 366h1v1h-1zM524 347h1v1h-1zM514 372h1v1h-1zM508 358h1v1h-1zM507 359h1v1h-1zM512 372h1v1h-1zM509 363h1v1h-1zM528 361h1v1h-1zM527 358h1v1h-1zM524 353h1v1h-1zM525 360h1v1h-1zM512 351h1v1h-1zM511 352h1v1h-1zM526 355h1v1h-1zM509 366h1v1h-1zM515 374h1v1h-1zM520 371h1v1h-1zM509 356h1v1h-1zM519 349h1v1h-1zM518 372h1v1h-1zM510 357h1v1h-1zM509 354h1v1h-1zM522 370h1v1h-1zM512 368h1v1h-1zM514 349h1v1h-1zM513 350h1v1h-1zM509 362h1v1h-1zM508 361h1v1h-1zM524 370h1v1h-1zM525 362h1v1h-1zM520 347h1v1h-1zM514 350h1v1h-1zM514 369h1v1h-1zM514 348h1v1h-1zM523 350h1v1h-1zM509 365h1v1h-1zM525 367h1v1h-1zM524 348h1v1h-1zM516 347h1v1h-1zM523 352h1v1h-1zM526 359h1v1h-1zM510 354h1v1h-1zM516 349h1v1h-1zM508 359h1v1h-1zM509 367h1v1h-1zM523 349h1v1h-1zM509 357h1v1h-1zM522 348h1v1h-1zM526 366h1v1h-1zM512 353h1v1h-1zM520 372h1v1h-1zM523 348h1v1h-1zM513 371h1v1h-1zM508 356h1v1h-1zM510 368h1v1h-1zM527 356h1v1h-1zM512 352h1v1h-1zM523 370h1v1h-1zM508 362h1v1h-1zM514 373h1v1h-1zM508 364h1v1h-1zM518 374h1v1h-1zM521 348h1v1h-1zM525 366h1v1h-1zM516 348h1v1h-1zM513 372h1v1h-1zM511 367h1v1h-1zM511 369h1v1h-1zM517 348h1v1h-1zM512 369h1v1h-1zM525 363h1v1h-1zM515 350h1v1h-1zM525 353h1v1h-1zM526 363h1v1h-1zM509 360h1v1h-1zM526 367h1v1h-1zM522 371h1v1h-1zM527 359h1v1h-1zM524 367h1v1h-1zM521 372h1v1h-1zM525 354h1v1h-1zM527 360h1v1h-1zM525 355h1v1h-1zM523 347h1v1h-1zM517 373h1v1h-1zM526 364h1v1h-1zM526 362h1v1h-1zM508 354h1v1h-1zM516 351h1v1h-1zM515 351h1v1h-1zM515 349h1v1h-1zM526 368h1v1h-1zM522 347h1v1h-1zM508 360h1v1h-1zM526 361h1v1h-1zM524 352h1v1h-1zM513 369h1v1h-1zM518 347h1v1h-1zM519 347h1v1h-1zM522 350h1v1h-1zM519 348h1v1h-1zM520 348h1v1h-1zM509 368h1v1h-1zM509 359h1v1h-1zM526 360h1v1h-1zM511 370h1v1h-1zM521 347h1v1h-1zM509 355h1v1h-1zM514 374h1v1h-1zM521 349h1v1h-1zM519 373h1v1h-1zM524 368h1v1h-1zM512 371h1v1h-1zM518 373h1v1h-1zM512 370h1v1h-1zM524 350h1v1h-1zM521 346h1v1h-1zM510 353h1v1h-1z" fill="#2a72ea" fill-opacity="1"/>
<path d="M515 353h1v1h-1zM525 365h1v1h-1zM516 373h1v1h-1zM524 365h1v1h-1zM524 362h1v1h-1zM511 354h1v1h-1zM511 365h1v1h-1zM510 363h1v1h-1zM517 351h1v1h-1zM519 372h1v1h-1zM525 361h1v1h-1zM510 366h1v1h-1zM511 366h1v1h-1zM524 354h1v1h-1zM525 358h1v1h-1zM515 371h1v1h-1zM515 372h1v1h-1zM521 370h1v1h-1zM522 367h1v1h-1zM518 349h1v1h-1zM512 354h1v1h-1zM511 356h1v1h-1zM510 356h1v1h-1zM518 371h1v1h-1zM514 371h1v1h-1zM517 350h1v1h-1zM524 366h1v1h-1zM526 357h1v1h-1zM521 352h1v1h-1zM523 353h1v1h-1zM525 357h1v1h-1zM523 366h1v1h-1zM510 359h1v1h-1zM521 371h1v1h-1zM522 369h1v1h-1zM514 370h1v1h-1zM524 355h1v1h-1zM525 364h1v1h-1zM510 364h1v1h-1zM516 369h1v1h-1zM514 368h1v1h-1zM514 352h1v1h-1zM510 360h1v1h-1zM522 352h1v1h-1zM522 368h1v1h-1zM514 355h1v1h-1zM513 370h1v1h-1zM514 351h1v1h-1zM525 359h1v1h-1zM514 356h1v1h-1zM509 358h1v1h-1zM510 365h1v1h-1zM523 354h1v1h-1zM523 369h1v1h-1zM518 348h1v1h-1zM515 370h1v1h-1zM521 350h1v1h-1zM526 358h1v1h-1zM516 350h1v1h-1zM520 370h1v1h-1zM520 350h1v1h-1zM511 362h1v1h-1zM510 361h1v1h-1zM526 356h1v1h-1zM510 358h1v1h-1zM516 372h1v1h-1zM524 363h1v1h-1zM515 373h1v1h-1zM516 352h1v1h-1zM513 353h1v1h-1zM513 352h1v1h-1zM524 361h1v1h-1zM510 355h1v1h-1zM517 372h1v1h-1zM523 368h1v1h-1zM517 349h1v1h-1zM520 349h1v1h-1zM524 359h1v1h-1zM511 361h1v1h-1zM515 352h1v1h-1zM510 362h1v1h-1zM523 367h1v1h-1zM515 369h1v1h-1zM509 364h1v1h-1z" fill="#1ea4d4" fill-opacity="1"/>
<path d="M511 359h1v1h-1zM521 369h1v1h-1zM523 355h1v1h-1zM513 366h1v1h-1zM513 357h1v1h-1zM521 365h1v1h-1zM517 369h1v1h-1zM516 368h1v1h-1zM522 353h1v1h-1zM512 366h1v1h-1zM518 350h1v1h-1zM519 357h1v1h-1zM517 371h1v1h-1zM522 360h1v1h-1zM512 365h1v1h-1zM519 368h1v1h-1zM524 360h1v1h-1zM519 352h1v1h-1zM519 371h1v1h-1zM522 364h1v1h-1zM519 351h1v1h-1zM524 357h1v1h-1zM515 367h1v1h-1zM513 365h1v1h-1zM514 353h1v1h-1zM519 370h1v1h-1zM511 364h1v1h-1zM521 353h1v1h-1zM522 363h1v1h-1zM523 360h1v1h-1zM512 355h1v1h-1zM512 356h1v1h-1zM521 358h1v1h-1zM511 358h1v1h-1zM513 356h1v1h-1zM520 354h1v1h-1zM514 366h1v1h-1zM523 356h1v1h-1zM523 363h1v1h-1zM521 368h1v1h-1zM516 367h1v1h-1zM512 367h1v1h-1zM522 354h1v1h-1zM515 354h1v1h-1zM520 351h1v1h-1zM520 369h1v1h-1zM518 370h1v1h-1zM512 363h1v1h-1zM516 370h1v1h-1zM523 362h1v1h-1zM517 353h1v1h-1zM518 369h1v1h-1zM511 360h1v1h-1zM520 353h1v1h-1zM513 354h1v1h-1zM512 362h1v1h-1zM524 358h1v1h-1zM521 363h1v1h-1zM524 356h1v1h-1zM513 368h1v1h-1zM517 366h1v1h-1zM511 357h1v1h-1zM512 360h1v1h-1zM525 356h1v1h-1zM517 352h1v1h-1zM518 352h1v1h-1zM516 371h1v1h-1zM522 366h1v1h-1zM511 363h1v1h-1zM517 368h1v1h-1zM523 361h1v1h-1zM513 367h1v1h-1zM512 359h1v1h-1zM515 368h1v1h-1zM512 364h1v1h-1zM524 364h1v1h-1zM514 354h1v1h-1zM511 355h1v1h-1zM516 353h1v1h-1zM517 370h1v1h-1zM523 365h1v1h-1zM519 350h1v1h-1z" fill="#20bc98" fill-opacity="1"/>
<path d="M516 357h1v1h-1zM513 361h1v1h-1zM521 354h1v1h-1zM515 363h1v1h-1zM519 354h1v1h-1zM520 364h1v1h-1zM522 358h1v1h-1zM521 362h1v1h-1zM521 357h1v1h-1zM519 366h1v1h-1zM520 365h1v1h-1zM516 358h1v1h-1zM519 359h1v1h-1zM521 356h1v1h-1zM514 357h1v1h-1zM519 365h1v1h-1zM514 358h1v1h-1zM518 368h1v1h-1zM520 368h1v1h-1zM519 369h1v1h-1zM523 364h1v1h-1zM520 358h1v1h-1zM521 360h1v1h-1zM517 354h1v1h-1zM521 366h1v1h-1zM514 367h1v1h-1zM515 356h1v1h-1zM516 361h1v1h-1zM520 367h1v1h-1zM514 361h1v1h-1zM520 361h1v1h-1zM514 360h1v1h-1zM519 355h1v1h-1zM518 353h1v1h-1zM515 366h1v1h-1zM512 357h1v1h-1zM520 352h1v1h-1zM514 363h1v1h-1zM519 353h1v1h-1zM518 354h1v1h-1zM514 359h1v1h-1zM522 365h1v1h-1zM517 356h1v1h-1zM515 362h1v1h-1zM517 357h1v1h-1zM516 366h1v1h-1zM516 355h1v1h-1zM512 361h1v1h-1zM521 364h1v1h-1zM523 357h1v1h-1zM520 355h1v1h-1zM519 361h1v1h-1zM520 366h1v1h-1zM522 356h1v1h-1zM518 366h1v1h-1zM512 358h1v1h-1zM522 361h1v1h-1zM514 364h1v1h-1zM522 362h1v1h-1zM522 355h1v1h-1zM513 355h1v1h-1zM517 355h1v1h-1zM513 358h1v1h-1zM517 358h1v1h-1zM518 365h1v1h-1zM523 359h1v1h-1zM515 355h1v1h-1zM521 361h1v1h-1zM515 365h1v1h-1zM520 362h1v1h-1zM513 363h1v1h-1zM520 356h1v1h-1zM514 365h1v1h-1zM516 354h1v1h-1zM519 356h1v1h-1zM523 358h1v1h-1zM513 362h1v1h-1zM513 359h1v1h-1zM513 360h1v1h-1zM520 357h1v1h-1zM522 357h1v1h-1zM521 359h1v1h-1zM521 367h1v1h-1zM518 351h1v1h-1zM518 367h1v1h-1zM521 355h1v1h-1zM517 367h1v1h-1z" fill="#3cc85c" fill-opacity="1"/>
<path d="M516 365h1v1h-1zM518 356h1v1h-1zM515 357h1v1h-1zM515 361h1v1h-1zM516 364h1v1h-1zM520 360h1v1h-1zM514 362h1v1h-1zM519 358h1v1h-1zM519 362h1v1h-1zM518 361h1v1h-1zM517 359h1v1h-1zM515 358h1v1h-1zM522 359h1v1h-1zM517 364h1v1h-1zM517 360h1v1h-1zM519 367h1v1h-1zM519 360h1v1h-1zM516 356h1v1h-1zM513 364h1v1h-1zM515 364h1v1h-1zM517 361h1v1h-1zM518 357h1v1h-1zM515 359h1v1h-1zM518 355h1v1h-1zM516 360h1v1h-1zM520 359h1v1h-1zM520 363h1v1h-1z" fill="#a8c840" fill-opacity="1"/>
<path d="M516 359h1v1h-1zM518 362h1v1h-1zM517 363h1v1h-1zM518 364h1v1h-1zM516 363h1v1h-1zM515 360h1v1h-1zM519 364h1v1h-1zM519 363h1v1h-1zM516 362h1v1h-1zM518 363h1v1h-1zM517 362h1v1h-1zM517 365h1v1h-1zM518 360h1v1h-1zM518 358h1v1h-1zM518 359h1v1h-1z" fill="#e09a30" fill-opacity="1"/>
</g>
<line x1="487" y1="317" x2="487" y2="402.6" stroke="#222" stroke-width="1.1"/>
<line x1="448" y1="373.7" x2="539.2" y2="373.7" stroke="#222" stroke-width="1.1"/>
<line x1="448" y1="317" x2="448" y2="402.6" stroke="#111" stroke-width="1"/>
<line x1="448" y1="402.6" x2="539.2" y2="402.6" stroke="#111" stroke-width="1"/>
<line x1="445.8" y1="319.8" x2="448" y2="319.8" stroke="#111" stroke-width="1"/>
<text x="444.6" y="320.8" font-size="3.4" font-weight="normal" fill="#5a9a78" text-anchor="end">10<tspan font-size="2.6" dy="-1.6">3</tspan></text>
<line x1="445.8" y1="336.2" x2="448" y2="336.2" stroke="#111" stroke-width="1"/>
<text x="444.6" y="337.2" font-size="3.4" font-weight="normal" fill="#5a9a78" text-anchor="end">10<tspan font-size="2.6" dy="-1.6">2</tspan></text>
<line x1="445.8" y1="354.6" x2="448" y2="354.6" stroke="#111" stroke-width="1"/>
<text x="444.6" y="355.6" font-size="3.4" font-weight="normal" fill="#5a9a78" text-anchor="end">10<tspan font-size="2.6" dy="-1.6">1</tspan></text>
<line x1="445.8" y1="373.2" x2="448" y2="373.2" stroke="#111" stroke-width="1"/>
<text x="444.6" y="374.2" font-size="3.4" font-weight="normal" fill="#5a9a78" text-anchor="end">10<tspan font-size="2.6" dy="-1.6">0</tspan></text>
<line x1="445.8" y1="392" x2="448" y2="392" stroke="#111" stroke-width="1"/>
<text x="444.6" y="393" font-size="3.4" font-weight="normal" fill="#5a9a78" text-anchor="end">10<tspan font-size="2.6" dy="-1.6">-1</tspan></text>
<line x1="447" y1="321.28" x2="448" y2="321.28" stroke="#333" stroke-width="0.5"/>
<line x1="447" y1="325.56" x2="448" y2="325.56" stroke="#333" stroke-width="0.5"/>
<line x1="447" y1="329.84" x2="448" y2="329.84" stroke="#333" stroke-width="0.5"/>
<line x1="447" y1="334.12" x2="448" y2="334.12" stroke="#333" stroke-width="0.5"/>
<line x1="447" y1="338.4" x2="448" y2="338.4" stroke="#333" stroke-width="0.5"/>
<line x1="447" y1="342.68" x2="448" y2="342.68" stroke="#333" stroke-width="0.5"/>
<line x1="447" y1="346.96" x2="448" y2="346.96" stroke="#333" stroke-width="0.5"/>
<line x1="447" y1="351.24" x2="448" y2="351.24" stroke="#333" stroke-width="0.5"/>
<line x1="447" y1="355.52" x2="448" y2="355.52" stroke="#333" stroke-width="0.5"/>
<line x1="447" y1="359.8" x2="448" y2="359.8" stroke="#333" stroke-width="0.5"/>
<line x1="447" y1="364.08" x2="448" y2="364.08" stroke="#333" stroke-width="0.5"/>
<line x1="447" y1="368.36" x2="448" y2="368.36" stroke="#333" stroke-width="0.5"/>
<line x1="447" y1="372.64" x2="448" y2="372.64" stroke="#333" stroke-width="0.5"/>
<line x1="447" y1="376.92" x2="448" y2="376.92" stroke="#333" stroke-width="0.5"/>
<line x1="447" y1="381.2" x2="448" y2="381.2" stroke="#333" stroke-width="0.5"/>
<line x1="447" y1="385.48" x2="448" y2="385.48" stroke="#333" stroke-width="0.5"/>
<line x1="447" y1="389.76" x2="448" y2="389.76" stroke="#333" stroke-width="0.5"/>
<line x1="447" y1="394.04" x2="448" y2="394.04" stroke="#333" stroke-width="0.5"/>
<line x1="447" y1="398.32" x2="448" y2="398.32" stroke="#333" stroke-width="0.5"/>
<line x1="451.6" y1="402.6" x2="451.6" y2="404.8" stroke="#111" stroke-width="1"/>
<text x="452.6" y="408.8" font-size="3.4" font-weight="normal" fill="#5a9a78" text-anchor="middle">10<tspan font-size="2.6" dy="-1.6">-2</tspan></text>
<line x1="467.2" y1="402.6" x2="467.2" y2="404.8" stroke="#111" stroke-width="1"/>
<text x="468.2" y="408.8" font-size="3.4" font-weight="normal" fill="#5a9a78" text-anchor="middle">10<tspan font-size="2.6" dy="-1.6">-1</tspan></text>
<line x1="486.5" y1="402.6" x2="486.5" y2="404.8" stroke="#111" stroke-width="1"/>
<text x="487.5" y="408.8" font-size="3.4" font-weight="normal" fill="#5a9a78" text-anchor="middle">10<tspan font-size="2.6" dy="-1.6">0</tspan></text>
<line x1="503.4" y1="402.6" x2="503.4" y2="404.8" stroke="#111" stroke-width="1"/>
<text x="504.4" y="408.8" font-size="3.4" font-weight="normal" fill="#5a9a78" text-anchor="middle">10<tspan font-size="2.6" dy="-1.6">1</tspan></text>
<line x1="522.3" y1="402.6" x2="522.3" y2="404.8" stroke="#111" stroke-width="1"/>
<text x="523.3" y="408.8" font-size="3.4" font-weight="normal" fill="#5a9a78" text-anchor="middle">10<tspan font-size="2.6" dy="-1.6">2</tspan></text>
<line x1="536" y1="402.6" x2="536" y2="404.8" stroke="#111" stroke-width="1"/>
<text x="537" y="408.8" font-size="3.4" font-weight="normal" fill="#5a9a78" text-anchor="middle">10<tspan font-size="2.6" dy="-1.6">3</tspan></text>
<line x1="451.8" y1="402.6" x2="451.8" y2="403.6" stroke="#333" stroke-width="0.5"/>
<line x1="455.6" y1="402.6" x2="455.6" y2="403.6" stroke="#333" stroke-width="0.5"/>
<line x1="459.4" y1="402.6" x2="459.4" y2="403.6" stroke="#333" stroke-width="0.5"/>
<line x1="463.2" y1="402.6" x2="463.2" y2="403.6" stroke="#333" stroke-width="0.5"/>
<line x1="467" y1="402.6" x2="467" y2="403.6" stroke="#333" stroke-width="0.5"/>
<line x1="470.8" y1="402.6" x2="470.8" y2="403.6" stroke="#333" stroke-width="0.5"/>
<line x1="474.6" y1="402.6" x2="474.6" y2="403.6" stroke="#333" stroke-width="0.5"/>
<line x1="478.4" y1="402.6" x2="478.4" y2="403.6" stroke="#333" stroke-width="0.5"/>
<line x1="482.2" y1="402.6" x2="482.2" y2="403.6" stroke="#333" stroke-width="0.5"/>
<line x1="486" y1="402.6" x2="486" y2="403.6" stroke="#333" stroke-width="0.5"/>
<line x1="489.8" y1="402.6" x2="489.8" y2="403.6" stroke="#333" stroke-width="0.5"/>
<line x1="493.6" y1="402.6" x2="493.6" y2="403.6" stroke="#333" stroke-width="0.5"/>
<line x1="497.4" y1="402.6" x2="497.4" y2="403.6" stroke="#333" stroke-width="0.5"/>
<line x1="501.2" y1="402.6" x2="501.2" y2="403.6" stroke="#333" stroke-width="0.5"/>
<line x1="505" y1="402.6" x2="505" y2="403.6" stroke="#333" stroke-width="0.5"/>
<line x1="508.8" y1="402.6" x2="508.8" y2="403.6" stroke="#333" stroke-width="0.5"/>
<line x1="512.6" y1="402.6" x2="512.6" y2="403.6" stroke="#333" stroke-width="0.5"/>
<line x1="516.4" y1="402.6" x2="516.4" y2="403.6" stroke="#333" stroke-width="0.5"/>
<line x1="520.2" y1="402.6" x2="520.2" y2="403.6" stroke="#333" stroke-width="0.5"/>
<line x1="524" y1="402.6" x2="524" y2="403.6" stroke="#333" stroke-width="0.5"/>
<line x1="527.8" y1="402.6" x2="527.8" y2="403.6" stroke="#333" stroke-width="0.5"/>
<line x1="531.6" y1="402.6" x2="531.6" y2="403.6" stroke="#333" stroke-width="0.5"/>
<line x1="535.4" y1="402.6" x2="535.4" y2="403.6" stroke="#333" stroke-width="0.5"/>
<text x="450.6" y="322.6" font-size="4.2" font-weight="normal" fill="#7a4868" text-anchor="start" stroke-width="0.05" stroke="#7a4868">PD1+</text>
<text x="450.6" y="328.6" font-size="4.2" font-weight="normal" fill="#333" text-anchor="start" stroke-width="0.05" stroke="#333">0,13</text>
<text x="525.4" y="322.6" font-size="4.2" font-weight="normal" fill="#7a4868" text-anchor="end" stroke-width="0.05" stroke="#7a4868">PD1+PDL1+</text>
<text x="525.4" y="328.6" font-size="4.2" font-weight="normal" fill="#333" text-anchor="end" stroke-width="0.05" stroke="#333">92,7</text>
<text x="450.6" y="392.4" font-size="4.2" font-weight="normal" fill="#7a4868" text-anchor="start" stroke-width="0.05" stroke="#7a4868">DN</text>
<text x="450.6" y="397.6" font-size="4.2" font-weight="normal" fill="#333" text-anchor="start" stroke-width="0.05" stroke="#333">0,067</text>
<text x="531.4" y="392.4" font-size="4.2" font-weight="normal" fill="#7a4868" text-anchor="end" stroke-width="0.05" stroke="#7a4868">PDL1</text>
<text x="531.4" y="397.6" font-size="4.2" font-weight="normal" fill="#333" text-anchor="end" stroke-width="0.05" stroke="#333">7,05</text>
<text x="464.7" y="315.8" font-size="7.45" font-weight="bold" fill="#111" text-anchor="start" textLength="56.3" lengthAdjust="spacingAndGlyphs" stroke="#111" stroke-width="0.15">complexed cells</text>
<text x="334.4" y="367.5" font-size="8.6" font-weight="normal" fill="#111" text-anchor="middle" transform="rotate(-90 334.4 367.5)" dominant-baseline="central" textLength="29.8" lengthAdjust="spacingAndGlyphs" stroke="#111" stroke-width="0.35">PD-1-PE</text>
<text x="420.3" y="420.8" font-size="8.8" font-weight="normal" fill="#111" text-anchor="start" textLength="41.3" lengthAdjust="spacingAndGlyphs" stroke="#111" stroke-width="0.15">PD-L1-APC</text>
</svg>
</body></html>
